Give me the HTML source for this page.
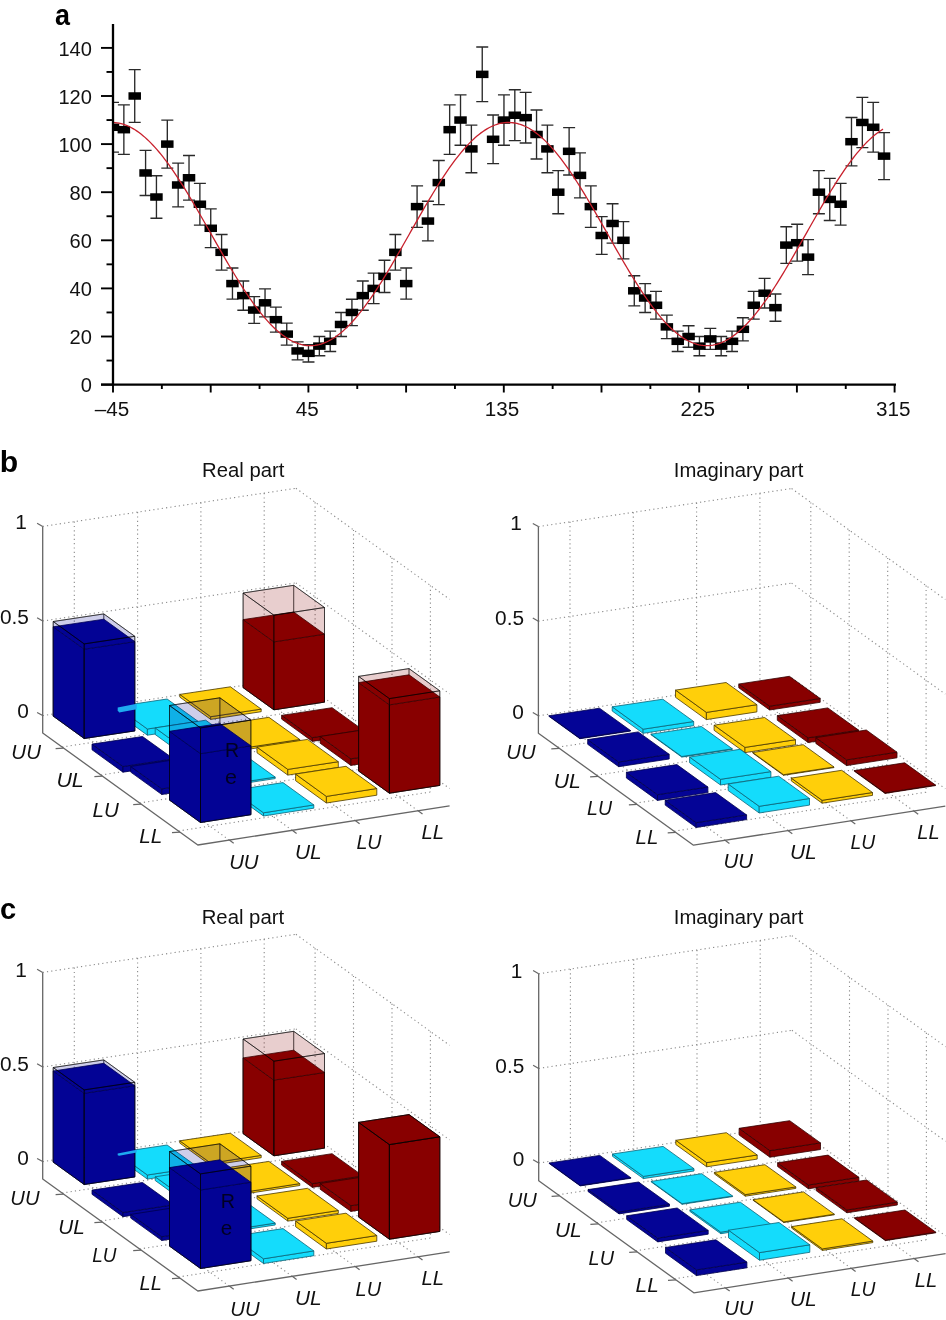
<!DOCTYPE html>
<html><head><meta charset="utf-8"><title>figure</title>
<style>html,body{margin:0;padding:0;background:#fff;}svg{display:block;will-change:transform;}</style>
</head><body>
<svg width="946" height="1320" viewBox="0 0 946 1320">
<g id="pa">
<text transform="translate(54.99 24.60) scale(0.9281 1)" font-family='"Liberation Sans", sans-serif' font-weight="bold" font-size="29" fill="#000">a</text>
<clipPath id="clipa"><rect x="112.5" y="0" width="900" height="400"/></clipPath>
<g clip-path="url(#clipa)">
<path d="M113.00 102.39V152.14M107.00 102.39H119.00M107.00 152.14H119.00" stroke="#2a2a2a" stroke-width="1.35" fill="none"/>
<path d="M123.86 104.91V154.43M117.86 104.91H129.86M117.86 154.43H129.86" stroke="#2a2a2a" stroke-width="1.35" fill="none"/>
<path d="M134.72 69.65V122.35M128.72 69.65H140.72M128.72 122.35H140.72" stroke="#2a2a2a" stroke-width="1.35" fill="none"/>
<path d="M145.58 150.40V195.52M139.58 150.40H151.58M139.58 195.52H151.58" stroke="#2a2a2a" stroke-width="1.35" fill="none"/>
<path d="M156.44 175.77V218.25M150.44 175.77H162.44M150.44 218.25H162.44" stroke="#2a2a2a" stroke-width="1.35" fill="none"/>
<path d="M167.30 120.05V168.15M161.30 120.05H173.30M161.30 168.15H173.30" stroke="#2a2a2a" stroke-width="1.35" fill="none"/>
<path d="M178.16 163.07V206.90M172.16 163.07H184.16M172.16 206.90H184.16" stroke="#2a2a2a" stroke-width="1.35" fill="none"/>
<path d="M189.02 155.47V200.07M183.02 155.47H195.02M183.02 200.07H195.02" stroke="#2a2a2a" stroke-width="1.35" fill="none"/>
<path d="M199.88 183.40V225.05M193.88 183.40H205.88M193.88 225.05H205.88" stroke="#2a2a2a" stroke-width="1.35" fill="none"/>
<path d="M210.74 208.89V247.66M204.74 208.89H216.74M204.74 247.66H216.74" stroke="#2a2a2a" stroke-width="1.35" fill="none"/>
<path d="M221.60 234.49V270.16M215.60 234.49H227.60M215.60 270.16H227.60" stroke="#2a2a2a" stroke-width="1.35" fill="none"/>
<path d="M232.46 268.00V299.18M226.46 268.00H238.46M226.46 299.18H238.46" stroke="#2a2a2a" stroke-width="1.35" fill="none"/>
<path d="M243.32 280.99V310.24M237.32 280.99H249.32M237.32 310.24H249.32" stroke="#2a2a2a" stroke-width="1.35" fill="none"/>
<path d="M254.18 296.65V323.44M248.18 296.65H260.18M248.18 323.44H260.18" stroke="#2a2a2a" stroke-width="1.35" fill="none"/>
<path d="M265.04 288.81V316.85M259.04 288.81H271.04M259.04 316.85H271.04" stroke="#2a2a2a" stroke-width="1.35" fill="none"/>
<path d="M275.90 307.17V332.16M269.90 307.17H281.90M269.90 332.16H281.90" stroke="#2a2a2a" stroke-width="1.35" fill="none"/>
<path d="M286.76 323.07V345.12M280.76 323.07H292.76M280.76 345.12H292.76" stroke="#2a2a2a" stroke-width="1.35" fill="none"/>
<path d="M297.62 341.93V359.93M291.62 341.93H303.62M291.62 359.93H303.62" stroke="#2a2a2a" stroke-width="1.35" fill="none"/>
<path d="M308.48 344.66V362.01M302.48 344.66H314.48M302.48 362.01H314.48" stroke="#2a2a2a" stroke-width="1.35" fill="none"/>
<path d="M319.34 336.50V355.74M313.34 336.50H325.34M313.34 355.74H325.34" stroke="#2a2a2a" stroke-width="1.35" fill="none"/>
<path d="M330.20 331.11V351.51M324.20 331.11H336.20M324.20 351.51H336.20" stroke="#2a2a2a" stroke-width="1.35" fill="none"/>
<path d="M341.06 312.45V336.50M335.06 312.45H347.06M335.06 336.50H347.06" stroke="#2a2a2a" stroke-width="1.35" fill="none"/>
<path d="M351.92 299.28V325.62M345.92 299.28H357.92M345.92 325.62H357.92" stroke="#2a2a2a" stroke-width="1.35" fill="none"/>
<path d="M362.78 280.99V310.24M356.78 280.99H368.78M356.78 310.24H368.78" stroke="#2a2a2a" stroke-width="1.35" fill="none"/>
<path d="M373.64 273.19V303.61M367.64 273.19H379.64M367.64 303.61H379.64" stroke="#2a2a2a" stroke-width="1.35" fill="none"/>
<path d="M384.50 260.24V292.51M378.50 260.24H390.50M378.50 292.51H390.50" stroke="#2a2a2a" stroke-width="1.35" fill="none"/>
<path d="M395.36 234.49V270.16M389.36 234.49H401.36M389.36 270.16H401.36" stroke="#2a2a2a" stroke-width="1.35" fill="none"/>
<path d="M406.22 268.00V299.18M400.22 268.00H412.22M400.22 299.18H412.22" stroke="#2a2a2a" stroke-width="1.35" fill="none"/>
<path d="M417.08 185.94V227.32M411.08 185.94H423.08M411.08 227.32H423.08" stroke="#2a2a2a" stroke-width="1.35" fill="none"/>
<path d="M427.94 201.23V240.89M421.94 201.23H433.94M421.94 240.89H433.94" stroke="#2a2a2a" stroke-width="1.35" fill="none"/>
<path d="M438.80 160.54V204.62M432.80 160.54H444.80M432.80 204.62H444.80" stroke="#2a2a2a" stroke-width="1.35" fill="none"/>
<path d="M449.66 104.91V154.43M443.66 104.91H455.66M443.66 154.43H455.66" stroke="#2a2a2a" stroke-width="1.35" fill="none"/>
<path d="M460.52 94.83V145.27M454.52 94.83H466.52M454.52 145.27H466.52" stroke="#2a2a2a" stroke-width="1.35" fill="none"/>
<path d="M471.38 125.10V172.72M465.38 125.10H477.38M465.38 172.72H477.38" stroke="#2a2a2a" stroke-width="1.35" fill="none"/>
<path d="M482.24 47.04V101.67M476.24 47.04H488.24M476.24 101.67H488.24" stroke="#2a2a2a" stroke-width="1.35" fill="none"/>
<path d="M493.10 115.00V163.58M487.10 115.00H499.10M487.10 163.58H499.10" stroke="#2a2a2a" stroke-width="1.35" fill="none"/>
<path d="M503.96 94.83V145.27M497.96 94.83H509.96M497.96 145.27H509.96" stroke="#2a2a2a" stroke-width="1.35" fill="none"/>
<path d="M514.82 89.79V140.69M508.82 89.79H520.82M508.82 140.69H520.82" stroke="#2a2a2a" stroke-width="1.35" fill="none"/>
<path d="M525.68 92.31V142.98M519.68 92.31H531.68M519.68 142.98H531.68" stroke="#2a2a2a" stroke-width="1.35" fill="none"/>
<path d="M536.54 109.95V159.01M530.54 109.95H542.54M530.54 159.01H542.54" stroke="#2a2a2a" stroke-width="1.35" fill="none"/>
<path d="M547.40 125.10V172.72M541.40 125.10H553.40M541.40 172.72H553.40" stroke="#2a2a2a" stroke-width="1.35" fill="none"/>
<path d="M558.26 170.69V213.71M552.26 170.69H564.26M552.26 213.71H564.26" stroke="#2a2a2a" stroke-width="1.35" fill="none"/>
<path d="M569.12 127.63V175.00M563.12 127.63H575.12M563.12 175.00H575.12" stroke="#2a2a2a" stroke-width="1.35" fill="none"/>
<path d="M579.98 152.93V197.80M573.98 152.93H585.98M573.98 197.80H585.98" stroke="#2a2a2a" stroke-width="1.35" fill="none"/>
<path d="M590.84 185.94V227.32M584.84 185.94H596.84M584.84 227.32H596.84" stroke="#2a2a2a" stroke-width="1.35" fill="none"/>
<path d="M601.70 216.55V254.43M595.70 216.55H607.70M595.70 254.43H607.70" stroke="#2a2a2a" stroke-width="1.35" fill="none"/>
<path d="M612.56 203.78V243.15M606.56 203.78H618.56M606.56 243.15H618.56" stroke="#2a2a2a" stroke-width="1.35" fill="none"/>
<path d="M623.42 221.67V258.93M617.42 221.67H629.42M617.42 258.93H629.42" stroke="#2a2a2a" stroke-width="1.35" fill="none"/>
<path d="M634.28 275.79V305.82M628.28 275.79H640.28M628.28 305.82H640.28" stroke="#2a2a2a" stroke-width="1.35" fill="none"/>
<path d="M645.14 283.59V312.45M639.14 283.59H651.14M639.14 312.45H651.14" stroke="#2a2a2a" stroke-width="1.35" fill="none"/>
<path d="M656.00 291.42V319.05M650.00 291.42H662.00M650.00 319.05H662.00" stroke="#2a2a2a" stroke-width="1.35" fill="none"/>
<path d="M666.86 315.10V338.66M660.86 315.10H672.86M660.86 338.66H672.86" stroke="#2a2a2a" stroke-width="1.35" fill="none"/>
<path d="M677.72 331.11V351.51M671.72 331.11H683.72M671.72 351.51H683.72" stroke="#2a2a2a" stroke-width="1.35" fill="none"/>
<path d="M688.58 325.74V347.26M682.58 325.74H694.58M682.58 347.26H694.58" stroke="#2a2a2a" stroke-width="1.35" fill="none"/>
<path d="M699.44 336.50V355.74M693.44 336.50H705.44M693.44 355.74H705.44" stroke="#2a2a2a" stroke-width="1.35" fill="none"/>
<path d="M710.30 328.42V349.39M704.30 328.42H716.30M704.30 349.39H716.30" stroke="#2a2a2a" stroke-width="1.35" fill="none"/>
<path d="M721.16 336.50V355.74M715.16 336.50H727.16M715.16 355.74H727.16" stroke="#2a2a2a" stroke-width="1.35" fill="none"/>
<path d="M732.02 331.11V351.51M726.02 331.11H738.02M726.02 351.51H738.02" stroke="#2a2a2a" stroke-width="1.35" fill="none"/>
<path d="M742.88 317.75V340.82M736.88 317.75H748.88M736.88 340.82H748.88" stroke="#2a2a2a" stroke-width="1.35" fill="none"/>
<path d="M753.74 291.42V319.05M747.74 291.42H759.74M747.74 319.05H759.74" stroke="#2a2a2a" stroke-width="1.35" fill="none"/>
<path d="M764.60 278.38V308.04M758.60 278.38H770.60M758.60 308.04H770.60" stroke="#2a2a2a" stroke-width="1.35" fill="none"/>
<path d="M775.46 294.04V321.24M769.46 294.04H781.46M769.46 321.24H781.46" stroke="#2a2a2a" stroke-width="1.35" fill="none"/>
<path d="M786.32 226.79V263.43M780.32 226.79H792.32M780.32 263.43H792.32" stroke="#2a2a2a" stroke-width="1.35" fill="none"/>
<path d="M797.18 224.23V261.18M791.18 224.23H803.18M791.18 261.18H803.18" stroke="#2a2a2a" stroke-width="1.35" fill="none"/>
<path d="M808.04 239.63V274.64M802.04 239.63H814.04M802.04 274.64H814.04" stroke="#2a2a2a" stroke-width="1.35" fill="none"/>
<path d="M818.90 170.69V213.71M812.90 170.69H824.90M812.90 213.71H824.90" stroke="#2a2a2a" stroke-width="1.35" fill="none"/>
<path d="M829.76 178.31V220.52M823.76 178.31H835.76M823.76 220.52H835.76" stroke="#2a2a2a" stroke-width="1.35" fill="none"/>
<path d="M840.62 183.40V225.05M834.62 183.40H846.62M834.62 225.05H846.62" stroke="#2a2a2a" stroke-width="1.35" fill="none"/>
<path d="M851.48 117.53V165.86M845.48 117.53H857.48M845.48 165.86H857.48" stroke="#2a2a2a" stroke-width="1.35" fill="none"/>
<path d="M862.34 97.35V147.56M856.34 97.35H868.34M856.34 147.56H868.34" stroke="#2a2a2a" stroke-width="1.35" fill="none"/>
<path d="M873.20 102.39V152.14M867.20 102.39H879.20M867.20 152.14H879.20" stroke="#2a2a2a" stroke-width="1.35" fill="none"/>
<path d="M884.06 132.68V179.57M878.06 132.68H890.06M878.06 179.57H890.06" stroke="#2a2a2a" stroke-width="1.35" fill="none"/>
<rect x="106.75" y="123.52" width="12.5" height="7.5" fill="#000"/>
<rect x="117.61" y="125.92" width="12.5" height="7.5" fill="#000"/>
<rect x="128.47" y="92.25" width="12.5" height="7.5" fill="#000"/>
<rect x="139.33" y="169.21" width="12.5" height="7.5" fill="#000"/>
<rect x="150.19" y="193.26" width="12.5" height="7.5" fill="#000"/>
<rect x="161.05" y="140.35" width="12.5" height="7.5" fill="#000"/>
<rect x="171.91" y="181.24" width="12.5" height="7.5" fill="#000"/>
<rect x="182.77" y="174.02" width="12.5" height="7.5" fill="#000"/>
<rect x="193.63" y="200.48" width="12.5" height="7.5" fill="#000"/>
<rect x="204.49" y="224.53" width="12.5" height="7.5" fill="#000"/>
<rect x="215.35" y="248.58" width="12.5" height="7.5" fill="#000"/>
<rect x="226.21" y="279.84" width="12.5" height="7.5" fill="#000"/>
<rect x="237.07" y="291.87" width="12.5" height="7.5" fill="#000"/>
<rect x="247.93" y="306.30" width="12.5" height="7.5" fill="#000"/>
<rect x="258.79" y="299.08" width="12.5" height="7.5" fill="#000"/>
<rect x="269.65" y="315.92" width="12.5" height="7.5" fill="#000"/>
<rect x="280.51" y="330.35" width="12.5" height="7.5" fill="#000"/>
<rect x="291.37" y="347.18" width="12.5" height="7.5" fill="#000"/>
<rect x="302.23" y="349.59" width="12.5" height="7.5" fill="#000"/>
<rect x="313.09" y="342.37" width="12.5" height="7.5" fill="#000"/>
<rect x="323.95" y="337.56" width="12.5" height="7.5" fill="#000"/>
<rect x="334.81" y="320.73" width="12.5" height="7.5" fill="#000"/>
<rect x="345.67" y="308.70" width="12.5" height="7.5" fill="#000"/>
<rect x="356.53" y="291.87" width="12.5" height="7.5" fill="#000"/>
<rect x="367.39" y="284.65" width="12.5" height="7.5" fill="#000"/>
<rect x="378.25" y="272.62" width="12.5" height="7.5" fill="#000"/>
<rect x="389.11" y="248.58" width="12.5" height="7.5" fill="#000"/>
<rect x="399.97" y="279.84" width="12.5" height="7.5" fill="#000"/>
<rect x="410.83" y="202.88" width="12.5" height="7.5" fill="#000"/>
<rect x="421.69" y="217.31" width="12.5" height="7.5" fill="#000"/>
<rect x="432.55" y="178.83" width="12.5" height="7.5" fill="#000"/>
<rect x="443.41" y="125.92" width="12.5" height="7.5" fill="#000"/>
<rect x="454.27" y="116.30" width="12.5" height="7.5" fill="#000"/>
<rect x="465.13" y="145.16" width="12.5" height="7.5" fill="#000"/>
<rect x="475.99" y="70.61" width="12.5" height="7.5" fill="#000"/>
<rect x="486.85" y="135.54" width="12.5" height="7.5" fill="#000"/>
<rect x="497.71" y="116.30" width="12.5" height="7.5" fill="#000"/>
<rect x="508.57" y="111.49" width="12.5" height="7.5" fill="#000"/>
<rect x="519.43" y="113.90" width="12.5" height="7.5" fill="#000"/>
<rect x="530.29" y="130.73" width="12.5" height="7.5" fill="#000"/>
<rect x="541.15" y="145.16" width="12.5" height="7.5" fill="#000"/>
<rect x="552.01" y="188.45" width="12.5" height="7.5" fill="#000"/>
<rect x="562.87" y="147.57" width="12.5" height="7.5" fill="#000"/>
<rect x="573.73" y="171.62" width="12.5" height="7.5" fill="#000"/>
<rect x="584.59" y="202.88" width="12.5" height="7.5" fill="#000"/>
<rect x="595.45" y="231.74" width="12.5" height="7.5" fill="#000"/>
<rect x="606.31" y="219.72" width="12.5" height="7.5" fill="#000"/>
<rect x="617.17" y="236.55" width="12.5" height="7.5" fill="#000"/>
<rect x="628.03" y="287.06" width="12.5" height="7.5" fill="#000"/>
<rect x="638.89" y="294.27" width="12.5" height="7.5" fill="#000"/>
<rect x="649.75" y="301.49" width="12.5" height="7.5" fill="#000"/>
<rect x="660.61" y="323.13" width="12.5" height="7.5" fill="#000"/>
<rect x="671.47" y="337.56" width="12.5" height="7.5" fill="#000"/>
<rect x="682.33" y="332.75" width="12.5" height="7.5" fill="#000"/>
<rect x="693.19" y="342.37" width="12.5" height="7.5" fill="#000"/>
<rect x="704.05" y="335.16" width="12.5" height="7.5" fill="#000"/>
<rect x="714.91" y="342.37" width="12.5" height="7.5" fill="#000"/>
<rect x="725.77" y="337.56" width="12.5" height="7.5" fill="#000"/>
<rect x="736.63" y="325.54" width="12.5" height="7.5" fill="#000"/>
<rect x="747.49" y="301.49" width="12.5" height="7.5" fill="#000"/>
<rect x="758.35" y="289.46" width="12.5" height="7.5" fill="#000"/>
<rect x="769.21" y="303.89" width="12.5" height="7.5" fill="#000"/>
<rect x="780.07" y="241.36" width="12.5" height="7.5" fill="#000"/>
<rect x="790.93" y="238.96" width="12.5" height="7.5" fill="#000"/>
<rect x="801.79" y="253.39" width="12.5" height="7.5" fill="#000"/>
<rect x="812.65" y="188.45" width="12.5" height="7.5" fill="#000"/>
<rect x="823.51" y="195.67" width="12.5" height="7.5" fill="#000"/>
<rect x="834.37" y="200.48" width="12.5" height="7.5" fill="#000"/>
<rect x="845.23" y="137.95" width="12.5" height="7.5" fill="#000"/>
<rect x="856.09" y="118.71" width="12.5" height="7.5" fill="#000"/>
<rect x="866.95" y="123.52" width="12.5" height="7.5" fill="#000"/>
<rect x="877.81" y="152.38" width="12.5" height="7.5" fill="#000"/>
<polyline points="113.0,122.47 115.0,122.58 117.0,122.81 119.0,123.14 121.0,123.59 123.0,124.15 125.0,124.81 127.0,125.59 129.0,126.48 131.0,127.47 133.0,128.58 135.0,129.79 137.0,131.10 139.0,132.51 141.0,134.03 143.0,135.65 145.0,137.37 147.0,139.18 149.0,141.09 151.0,143.10 153.0,145.19 155.0,147.37 157.0,149.65 159.0,152.00 161.0,154.44 163.0,156.96 165.0,159.55 167.0,162.22 169.0,164.97 171.0,167.78 173.0,170.66 175.0,173.60 177.0,176.60 179.0,179.66 181.0,182.78 183.0,185.94 185.0,189.16 187.0,192.42 189.0,195.72 191.0,199.06 193.0,202.43 195.0,205.84 197.0,209.28 199.0,212.74 201.0,216.22 203.0,219.72 205.0,223.23 207.0,226.76 209.0,230.29 211.0,233.83 213.0,237.36 215.0,240.90 217.0,244.42 219.0,247.94 221.0,251.44 223.0,254.92 225.0,258.39 227.0,261.82 229.0,265.24 231.0,268.61 233.0,271.96 235.0,275.27 237.0,278.53 239.0,281.75 241.0,284.93 243.0,288.05 245.0,291.11 247.0,294.12 249.0,297.07 251.0,299.96 253.0,302.78 255.0,305.53 257.0,308.21 259.0,310.82 261.0,313.34 263.0,315.79 265.0,318.16 267.0,320.44 269.0,322.63 271.0,324.74 273.0,326.76 275.0,328.68 277.0,330.50 279.0,332.23 281.0,333.86 283.0,335.40 285.0,336.82 287.0,338.15 289.0,339.37 291.0,340.49 293.0,341.50 295.0,342.40 297.0,343.19 299.0,343.87 301.0,344.44 303.0,344.90 305.0,345.25 307.0,345.49 309.0,345.62 311.0,345.63 313.0,345.53 315.0,345.32 317.0,345.00 319.0,344.57 321.0,344.02 323.0,343.37 325.0,342.60 327.0,341.73 329.0,340.75 331.0,339.66 333.0,338.47 335.0,337.17 337.0,335.76 339.0,334.26 341.0,332.65 343.0,330.95 345.0,329.14 347.0,327.24 349.0,325.25 351.0,323.17 353.0,321.00 355.0,318.74 357.0,316.39 359.0,313.96 361.0,311.46 363.0,308.87 365.0,306.21 367.0,303.48 369.0,300.67 371.0,297.80 373.0,294.87 375.0,291.87 377.0,288.82 379.0,285.71 381.0,282.55 383.0,279.34 385.0,276.09 387.0,272.79 389.0,269.45 391.0,266.08 393.0,262.68 395.0,259.25 397.0,255.79 399.0,252.31 401.0,248.81 403.0,245.30 405.0,241.78 407.0,238.25 409.0,234.71 411.0,231.17 413.0,227.64 415.0,224.11 417.0,220.60 419.0,217.09 421.0,213.61 423.0,210.14 425.0,206.70 427.0,203.28 429.0,199.90 431.0,196.55 433.0,193.24 435.0,189.97 437.0,186.74 439.0,183.56 441.0,180.43 443.0,177.36 445.0,174.34 447.0,171.39 449.0,168.49 451.0,165.66 453.0,162.90 455.0,160.21 457.0,157.60 459.0,155.06 461.0,152.60 463.0,150.23 465.0,147.93 467.0,145.73 469.0,143.61 471.0,141.59 473.0,139.65 475.0,137.81 477.0,136.07 479.0,134.43 481.0,132.88 483.0,131.44 485.0,130.10 487.0,128.87 489.0,127.74 491.0,126.72 493.0,125.80 495.0,125.00 497.0,124.30 499.0,123.72 501.0,123.24 503.0,122.88 505.0,122.63 507.0,122.49 509.0,122.46 511.0,122.54 513.0,122.74 515.0,123.05 517.0,123.47 519.0,124.00 521.0,124.64 523.0,125.39 525.0,126.25 527.0,127.22 529.0,128.29 531.0,129.47 533.0,130.76 535.0,132.15 537.0,133.64 539.0,135.24 541.0,136.93 543.0,138.72 545.0,140.61 547.0,142.59 549.0,144.66 551.0,146.82 553.0,149.07 555.0,151.40 557.0,153.82 559.0,156.32 561.0,158.90 563.0,161.55 565.0,164.27 567.0,167.07 569.0,169.93 571.0,172.86 573.0,175.84 575.0,178.89 577.0,181.99 579.0,185.15 581.0,188.35 583.0,191.60 585.0,194.89 587.0,198.22 589.0,201.59 591.0,204.99 593.0,208.42 595.0,211.87 597.0,215.35 599.0,218.84 601.0,222.35 603.0,225.88 605.0,229.41 607.0,232.94 609.0,236.48 611.0,240.01 613.0,243.54 615.0,247.06 617.0,250.56 619.0,254.05 621.0,257.52 623.0,260.97 625.0,264.39 627.0,267.77 629.0,271.13 631.0,274.44 633.0,277.72 635.0,280.95 637.0,284.14 639.0,287.27 641.0,290.35 643.0,293.38 645.0,296.34 647.0,299.25 649.0,302.08 651.0,304.85 653.0,307.55 655.0,310.17 657.0,312.72 659.0,315.19 661.0,317.57 663.0,319.88 665.0,322.09 667.0,324.22 669.0,326.26 671.0,328.21 673.0,330.06 675.0,331.81 677.0,333.47 679.0,335.02 681.0,336.48 683.0,337.83 685.0,339.08 687.0,340.22 689.0,341.25 691.0,342.18 693.0,343.00 695.0,343.71 697.0,344.31 699.0,344.80 701.0,345.18 703.0,345.44 705.0,345.60 707.0,345.64 709.0,345.57 711.0,345.39 713.0,345.09 715.0,344.69 717.0,344.17 719.0,343.54 721.0,342.81 723.0,341.96 725.0,341.00 727.0,339.94 729.0,338.77 731.0,337.50 733.0,336.12 735.0,334.64 737.0,333.06 739.0,331.38 741.0,329.60 743.0,327.73 745.0,325.76 747.0,323.70 749.0,321.55 751.0,319.31 753.0,316.99 755.0,314.58 757.0,312.09 759.0,309.52 761.0,306.88 763.0,304.17 765.0,301.38 767.0,298.53 769.0,295.61 771.0,292.63 773.0,289.59 775.0,286.49 777.0,283.35 779.0,280.15 781.0,276.90 783.0,273.62 785.0,270.29 787.0,266.93 789.0,263.53 791.0,260.11 793.0,256.66 795.0,253.18 797.0,249.69 799.0,246.18 801.0,242.66 803.0,239.13 805.0,235.59 807.0,232.06 809.0,228.52 811.0,224.99 813.0,221.47 815.0,217.97 817.0,214.48 819.0,211.00 821.0,207.56 823.0,204.13 825.0,200.74 827.0,197.38 829.0,194.06 831.0,190.78 833.0,187.54 835.0,184.35 837.0,181.21 839.0,178.12 841.0,175.09 843.0,172.12 845.0,169.21 847.0,166.36 849.0,163.59 851.0,160.88 853.0,158.25 855.0,155.69 857.0,153.21 859.0,150.81 861.0,148.50 863.0,146.27 865.0,144.13 867.0,142.08 869.0,140.13 871.0,138.26 873.0,136.50 875.0,134.83 877.0,133.26 879.0,131.79 881.0,130.43 883.0,129.17" fill="none" stroke="#c8202c" stroke-width="1.3"/>
</g>
<path d="M113.0 24V385.70000000000005" stroke="#000" stroke-width="2.3" fill="none"/>
<path d="M101.0 384.6H896.0" stroke="#000" stroke-width="2.1" fill="none"/>
<path d="M101.0 384.60H113.0" stroke="#000" stroke-width="1.9"/>
<text transform="translate(80.76 392.40) scale(1.0300 1)" font-family='"Liberation Sans", sans-serif' font-size="19.5" fill="#111">0</text>
<path d="M106.5 360.55H113.0" stroke="#000" stroke-width="1.9"/>
<path d="M101.0 336.50H113.0" stroke="#000" stroke-width="1.9"/>
<text transform="translate(69.61 344.30) scale(1.0300 1)" font-family='"Liberation Sans", sans-serif' font-size="19.5" fill="#111">20</text>
<path d="M106.5 312.45H113.0" stroke="#000" stroke-width="1.9"/>
<path d="M101.0 288.40H113.0" stroke="#000" stroke-width="1.9"/>
<text transform="translate(69.61 296.20) scale(1.0300 1)" font-family='"Liberation Sans", sans-serif' font-size="19.5" fill="#111">40</text>
<path d="M106.5 264.35H113.0" stroke="#000" stroke-width="1.9"/>
<path d="M101.0 240.30H113.0" stroke="#000" stroke-width="1.9"/>
<text transform="translate(69.61 248.10) scale(1.0300 1)" font-family='"Liberation Sans", sans-serif' font-size="19.5" fill="#111">60</text>
<path d="M106.5 216.25H113.0" stroke="#000" stroke-width="1.9"/>
<path d="M101.0 192.20H113.0" stroke="#000" stroke-width="1.9"/>
<text transform="translate(69.61 200.00) scale(1.0300 1)" font-family='"Liberation Sans", sans-serif' font-size="19.5" fill="#111">80</text>
<path d="M106.5 168.15H113.0" stroke="#000" stroke-width="1.9"/>
<path d="M101.0 144.10H113.0" stroke="#000" stroke-width="1.9"/>
<text transform="translate(58.46 151.90) scale(1.0300 1)" font-family='"Liberation Sans", sans-serif' font-size="19.5" fill="#111">100</text>
<path d="M106.5 120.05H113.0" stroke="#000" stroke-width="1.9"/>
<path d="M101.0 96.00H113.0" stroke="#000" stroke-width="1.9"/>
<text transform="translate(58.46 103.80) scale(1.0300 1)" font-family='"Liberation Sans", sans-serif' font-size="19.5" fill="#111">120</text>
<path d="M106.5 71.95H113.0" stroke="#000" stroke-width="1.9"/>
<path d="M101.0 47.90H113.0" stroke="#000" stroke-width="1.9"/>
<text transform="translate(58.46 55.70) scale(1.0300 1)" font-family='"Liberation Sans", sans-serif' font-size="19.5" fill="#111">140</text>
<path d="M113.00 384.6V392.5" stroke="#000" stroke-width="1.9"/>
<path d="M161.85 384.6V389.0" stroke="#000" stroke-width="1.9"/>
<path d="M210.70 384.6V392.5" stroke="#000" stroke-width="1.9"/>
<path d="M259.55 384.6V389.0" stroke="#000" stroke-width="1.9"/>
<path d="M308.40 384.6V392.5" stroke="#000" stroke-width="1.9"/>
<path d="M357.25 384.6V389.0" stroke="#000" stroke-width="1.9"/>
<path d="M406.10 384.6V392.5" stroke="#000" stroke-width="1.9"/>
<path d="M454.95 384.6V389.0" stroke="#000" stroke-width="1.9"/>
<path d="M503.80 384.6V392.5" stroke="#000" stroke-width="1.9"/>
<path d="M552.65 384.6V389.0" stroke="#000" stroke-width="1.9"/>
<path d="M601.50 384.6V392.5" stroke="#000" stroke-width="1.9"/>
<path d="M650.35 384.6V389.0" stroke="#000" stroke-width="1.9"/>
<path d="M699.20 384.6V392.5" stroke="#000" stroke-width="1.9"/>
<path d="M748.05 384.6V389.0" stroke="#000" stroke-width="1.9"/>
<path d="M796.90 384.6V392.5" stroke="#000" stroke-width="1.9"/>
<path d="M845.75 384.6V389.0" stroke="#000" stroke-width="1.9"/>
<path d="M894.60 384.6V392.5" stroke="#000" stroke-width="1.9"/>
<text transform="translate(94.81 416.20) scale(1.0600 1)" font-family='"Liberation Sans", sans-serif' font-size="19.5" fill="#111">–45</text>
<text transform="translate(295.73 416.20) scale(1.0600 1)" font-family='"Liberation Sans", sans-serif' font-size="19.5" fill="#111">45</text>
<text transform="translate(484.83 416.20) scale(1.0600 1)" font-family='"Liberation Sans", sans-serif' font-size="19.5" fill="#111">135</text>
<text transform="translate(680.49 416.20) scale(1.0600 1)" font-family='"Liberation Sans", sans-serif' font-size="19.5" fill="#111">225</text>
<text transform="translate(875.99 416.20) scale(1.0600 1)" font-family='"Liberation Sans", sans-serif' font-size="19.5" fill="#111">315</text>
</g>
<text transform="translate(-0.26 471.60) scale(1.0379 1)" font-family='"Liberation Sans", sans-serif' font-weight="bold" font-size="29" fill="#000">b</text>
<text transform="translate(-0.12 919.10) scale(1.0060 1)" font-family='"Liberation Sans", sans-serif' font-weight="bold" font-size="29" fill="#000">c</text>
<path d="M42.7 715.6L295.9 677.5" stroke="#8a8a8a" stroke-width="1.1" fill="none" stroke-dasharray="1.2 3.1"/>
<path d="M42.7 621.0L295.9 582.9" stroke="#8a8a8a" stroke-width="1.1" fill="none" stroke-dasharray="1.2 3.1"/>
<path d="M42.7 526.4L295.9 488.3" stroke="#8a8a8a" stroke-width="1.1" fill="none" stroke-dasharray="1.2 3.1"/>
<path d="M74.3 521.6L74.3 728.2" stroke="#8a8a8a" stroke-width="1.1" fill="none" stroke-dasharray="1.2 3.1"/>
<path d="M137.6 512.1L137.6 718.7" stroke="#8a8a8a" stroke-width="1.1" fill="none" stroke-dasharray="1.2 3.1"/>
<path d="M200.9 502.6L200.9 709.2" stroke="#8a8a8a" stroke-width="1.1" fill="none" stroke-dasharray="1.2 3.1"/>
<path d="M264.2 493.1L264.2 699.7" stroke="#8a8a8a" stroke-width="1.1" fill="none" stroke-dasharray="1.2 3.1"/>
<path d="M295.9 677.5L449.6 788.5" stroke="#8a8a8a" stroke-width="1.1" fill="none" stroke-dasharray="1.2 3.1"/>
<path d="M295.9 582.9L449.6 693.9" stroke="#8a8a8a" stroke-width="1.1" fill="none" stroke-dasharray="1.2 3.1"/>
<path d="M295.9 488.3L449.6 599.3" stroke="#8a8a8a" stroke-width="1.1" fill="none" stroke-dasharray="1.2 3.1"/>
<path d="M315.1 502.2L315.1 708.8" stroke="#8a8a8a" stroke-width="1.1" fill="none" stroke-dasharray="1.2 3.1"/>
<path d="M353.5 529.9L353.5 736.5" stroke="#8a8a8a" stroke-width="1.1" fill="none" stroke-dasharray="1.2 3.1"/>
<path d="M392.0 557.7L392.0 764.3" stroke="#8a8a8a" stroke-width="1.1" fill="none" stroke-dasharray="1.2 3.1"/>
<path d="M430.4 585.4L430.4 792.0" stroke="#8a8a8a" stroke-width="1.1" fill="none" stroke-dasharray="1.2 3.1"/>
<path d="M229.3 840.1L74.3 728.2" stroke="#8a8a8a" stroke-width="1.1" fill="none" stroke-dasharray="1.2 3.1"/>
<path d="M292.2 830.3L137.6 718.7" stroke="#8a8a8a" stroke-width="1.1" fill="none" stroke-dasharray="1.2 3.1"/>
<path d="M355.2 820.6L200.9 709.2" stroke="#8a8a8a" stroke-width="1.1" fill="none" stroke-dasharray="1.2 3.1"/>
<path d="M418.1 810.8L264.2 699.7" stroke="#8a8a8a" stroke-width="1.1" fill="none" stroke-dasharray="1.2 3.1"/>
<path d="M62.1 747.0L315.1 708.8" stroke="#8a8a8a" stroke-width="1.1" fill="none" stroke-dasharray="1.2 3.1"/>
<path d="M100.9 775.0L353.5 736.5" stroke="#8a8a8a" stroke-width="1.1" fill="none" stroke-dasharray="1.2 3.1"/>
<path d="M139.6 803.0L392.0 764.3" stroke="#8a8a8a" stroke-width="1.1" fill="none" stroke-dasharray="1.2 3.1"/>
<path d="M178.4 831.0L430.4 792.0" stroke="#8a8a8a" stroke-width="1.1" fill="none" stroke-dasharray="1.2 3.1"/>
<polygon points="243.1,687.6 293.7,679.9 324.5,702.1 273.9,709.8" fill="#880000" fill-opacity="0.1" stroke="#000" stroke-width="0.8" stroke-linejoin="round" stroke-opacity="0.55"/>
<polygon points="293.7,679.9 324.5,702.1 324.5,607.5 293.7,585.3" fill="#880000" fill-opacity="0.1" stroke="#000" stroke-width="0.8" stroke-linejoin="round" stroke-opacity="0.55"/>
<polygon points="243.1,687.6 293.7,679.9 293.7,585.3 243.1,593.0" fill="#880000" fill-opacity="0.1" stroke="#000" stroke-width="0.8" stroke-linejoin="round" stroke-opacity="0.55"/>
<polygon points="243.1,687.6 273.9,709.8 273.9,641.9 243.1,619.6" fill="#880000" stroke="#340000" stroke-width="0.8" stroke-linejoin="round"/>
<polygon points="273.9,709.8 324.5,702.1 324.5,634.2 273.9,641.9" fill="#880000" stroke="#340000" stroke-width="0.8" stroke-linejoin="round"/>
<polygon points="243.1,619.6 293.7,612.0 324.5,634.2 273.9,641.9" fill="#880000" stroke="#340000" stroke-width="0.8" stroke-linejoin="round"/>
<polygon points="243.1,687.6 273.9,709.8 273.9,615.2 243.1,593.0" fill="#880000" fill-opacity="0.1" stroke="#000" stroke-width="0.8" stroke-linejoin="round" stroke-opacity="0.7"/>
<polygon points="273.9,709.8 324.5,702.1 324.5,607.5 273.9,615.2" fill="#880000" fill-opacity="0.1" stroke="#000" stroke-width="0.8" stroke-linejoin="round" stroke-opacity="0.7"/>
<polygon points="243.1,593.0 293.7,585.3 324.5,607.5 273.9,615.2" fill="#880000" fill-opacity="0.1" stroke="#000" stroke-width="0.8" stroke-linejoin="round" stroke-opacity="0.7"/>
<polygon points="179.8,697.1 210.7,719.4 210.7,716.7 179.8,694.4" fill="#ffcf0a" stroke="#4a3800" stroke-width="0.8" stroke-linejoin="round"/>
<polygon points="210.7,719.4 261.2,711.7 261.2,709.1 210.7,716.7" fill="#ffcf0a" stroke="#4a3800" stroke-width="0.8" stroke-linejoin="round"/>
<polygon points="179.8,694.4 230.4,686.8 261.2,709.1 210.7,716.7" fill="#ffcf0a" stroke="#4a3800" stroke-width="0.8" stroke-linejoin="round"/>
<polygon points="281.6,719.1 312.4,741.4 312.4,737.6 281.6,715.4" fill="#880000" stroke="#340000" stroke-width="0.8" stroke-linejoin="round"/>
<polygon points="312.4,741.4 362.9,733.7 362.9,729.9 312.4,737.6" fill="#880000" stroke="#340000" stroke-width="0.8" stroke-linejoin="round"/>
<polygon points="281.6,715.4 332.1,707.7 362.9,729.9 312.4,737.6" fill="#880000" stroke="#340000" stroke-width="0.8" stroke-linejoin="round"/>
<polygon points="116.5,712.9 147.4,735.2 147.4,729.0 116.5,706.6" fill="#14dcfc" stroke="#0a6478" stroke-width="0.8" stroke-linejoin="round"/>
<polygon points="147.4,735.2 198.0,727.5 198.0,721.3 147.4,729.0" fill="#14dcfc" stroke="#0a6478" stroke-width="0.8" stroke-linejoin="round"/>
<polygon points="116.5,706.6 167.1,699.0 198.0,721.3 147.4,729.0" fill="#14dcfc" stroke="#0a6478" stroke-width="0.8" stroke-linejoin="round"/>
<polygon points="218.4,726.8 249.3,749.1 249.3,747.2 218.4,725.0" fill="#ffcf0a" stroke="#4a3800" stroke-width="0.8" stroke-linejoin="round"/>
<polygon points="249.3,749.1 299.8,741.4 299.8,739.5 249.3,747.2" fill="#ffcf0a" stroke="#4a3800" stroke-width="0.8" stroke-linejoin="round"/>
<polygon points="218.4,725.0 268.9,717.3 299.8,739.5 249.3,747.2" fill="#ffcf0a" stroke="#4a3800" stroke-width="0.8" stroke-linejoin="round"/>
<polygon points="320.1,743.2 350.9,765.4 350.9,758.8 320.1,736.5" fill="#880000" stroke="#340000" stroke-width="0.8" stroke-linejoin="round"/>
<polygon points="350.9,765.4 401.3,757.6 401.3,751.0 350.9,758.8" fill="#880000" stroke="#340000" stroke-width="0.8" stroke-linejoin="round"/>
<polygon points="320.1,736.5 370.6,728.8 401.3,751.0 350.9,758.8" fill="#880000" stroke="#340000" stroke-width="0.8" stroke-linejoin="round"/>
<polygon points="53.2,716.1 103.8,708.5 134.8,730.9 84.2,738.5" fill="#040496" fill-opacity="0.1" stroke="#000" stroke-width="0.8" stroke-linejoin="round" stroke-opacity="0.55"/>
<polygon points="103.8,708.5 134.8,730.9 134.8,636.3 103.8,613.9" fill="#040496" fill-opacity="0.1" stroke="#000" stroke-width="0.8" stroke-linejoin="round" stroke-opacity="0.55"/>
<polygon points="53.2,716.1 103.8,708.5 103.8,613.9 53.2,621.5" fill="#040496" fill-opacity="0.1" stroke="#000" stroke-width="0.8" stroke-linejoin="round" stroke-opacity="0.55"/>
<polygon points="53.2,716.1 84.2,738.5 84.2,649.2 53.2,626.8" fill="#040496" stroke="#00004c" stroke-width="0.8" stroke-linejoin="round"/>
<polygon points="84.2,738.5 134.8,730.9 134.8,641.6 84.2,649.2" fill="#040496" stroke="#00004c" stroke-width="0.8" stroke-linejoin="round"/>
<polygon points="53.2,626.8 103.8,619.2 134.8,641.6 84.2,649.2" fill="#040496" stroke="#00004c" stroke-width="0.8" stroke-linejoin="round"/>
<polygon points="53.2,716.1 84.2,738.5 84.2,643.9 53.2,621.5" fill="#040496" fill-opacity="0.1" stroke="#000" stroke-width="0.8" stroke-linejoin="round" stroke-opacity="0.7"/>
<polygon points="84.2,738.5 134.8,730.9 134.8,636.3 84.2,643.9" fill="#040496" fill-opacity="0.1" stroke="#000" stroke-width="0.8" stroke-linejoin="round" stroke-opacity="0.7"/>
<polygon points="53.2,621.5 103.8,613.9 134.8,636.3 84.2,643.9" fill="#040496" fill-opacity="0.1" stroke="#000" stroke-width="0.8" stroke-linejoin="round" stroke-opacity="0.7"/>
<polygon points="117.7,707.6 136.7,703.8 136.7,709.3 119.2,712.5 117.7,710.6" fill="#1eaaf0"/>
<polygon points="155.2,734.5 186.1,756.9 186.1,750.3 155.2,727.9" fill="#14dcfc" stroke="#0a6478" stroke-width="0.8" stroke-linejoin="round"/>
<polygon points="186.1,756.9 236.6,749.2 236.6,742.6 186.1,750.3" fill="#14dcfc" stroke="#0a6478" stroke-width="0.8" stroke-linejoin="round"/>
<polygon points="155.2,727.9 205.7,720.2 236.6,742.6 186.1,750.3" fill="#14dcfc" stroke="#0a6478" stroke-width="0.8" stroke-linejoin="round"/>
<polygon points="257.0,752.8 287.8,775.1 287.8,769.4 257.0,747.1" fill="#ffcf0a" stroke="#4a3800" stroke-width="0.8" stroke-linejoin="round"/>
<polygon points="287.8,775.1 338.3,767.4 338.3,761.7 287.8,769.4" fill="#ffcf0a" stroke="#4a3800" stroke-width="0.8" stroke-linejoin="round"/>
<polygon points="257.0,747.1 307.5,739.4 338.3,761.7 287.8,769.4" fill="#ffcf0a" stroke="#4a3800" stroke-width="0.8" stroke-linejoin="round"/>
<polygon points="358.6,771.0 409.0,763.2 439.8,785.4 389.4,793.2" fill="#880000" fill-opacity="0.1" stroke="#000" stroke-width="0.8" stroke-linejoin="round" stroke-opacity="0.55"/>
<polygon points="409.0,763.2 439.8,785.4 439.8,690.8 409.0,668.6" fill="#880000" fill-opacity="0.1" stroke="#000" stroke-width="0.8" stroke-linejoin="round" stroke-opacity="0.55"/>
<polygon points="358.6,771.0 409.0,763.2 409.0,668.6 358.6,676.4" fill="#880000" fill-opacity="0.1" stroke="#000" stroke-width="0.8" stroke-linejoin="round" stroke-opacity="0.55"/>
<polygon points="358.6,771.0 389.4,793.2 389.4,704.9 358.6,682.6" fill="#880000" stroke="#340000" stroke-width="0.8" stroke-linejoin="round"/>
<polygon points="389.4,793.2 439.8,785.4 439.8,697.0 389.4,704.9" fill="#880000" stroke="#340000" stroke-width="0.8" stroke-linejoin="round"/>
<polygon points="358.6,682.6 409.0,674.8 439.8,697.0 389.4,704.9" fill="#880000" stroke="#340000" stroke-width="0.8" stroke-linejoin="round"/>
<polygon points="358.6,771.0 389.4,793.2 389.4,698.6 358.6,676.4" fill="#880000" fill-opacity="0.1" stroke="#000" stroke-width="0.8" stroke-linejoin="round" stroke-opacity="0.7"/>
<polygon points="389.4,793.2 439.8,785.4 439.8,690.8 389.4,698.6" fill="#880000" fill-opacity="0.1" stroke="#000" stroke-width="0.8" stroke-linejoin="round" stroke-opacity="0.7"/>
<polygon points="358.6,676.4 409.0,668.6 439.8,690.8 389.4,698.6" fill="#880000" fill-opacity="0.1" stroke="#000" stroke-width="0.8" stroke-linejoin="round" stroke-opacity="0.7"/>
<polygon points="92.0,749.8 123.0,772.2 123.0,766.5 92.0,744.1" fill="#040496" stroke="#00004c" stroke-width="0.8" stroke-linejoin="round"/>
<polygon points="123.0,772.2 173.5,764.5 173.5,758.8 123.0,766.5" fill="#040496" stroke="#00004c" stroke-width="0.8" stroke-linejoin="round"/>
<polygon points="92.0,744.1 142.5,736.5 173.5,758.8 123.0,766.5" fill="#040496" stroke="#00004c" stroke-width="0.8" stroke-linejoin="round"/>
<polygon points="193.9,764.0 224.8,786.3 224.8,784.8 193.9,762.5" fill="#14dcfc" stroke="#0a6478" stroke-width="0.8" stroke-linejoin="round"/>
<polygon points="224.8,786.3 275.2,778.6 275.2,777.1 224.8,784.8" fill="#14dcfc" stroke="#0a6478" stroke-width="0.8" stroke-linejoin="round"/>
<polygon points="193.9,762.5 244.3,754.8 275.2,777.1 224.8,784.8" fill="#14dcfc" stroke="#0a6478" stroke-width="0.8" stroke-linejoin="round"/>
<polygon points="295.6,780.7 326.4,803.0 326.4,796.4 295.6,774.1" fill="#ffcf0a" stroke="#4a3800" stroke-width="0.8" stroke-linejoin="round"/>
<polygon points="326.4,803.0 376.8,795.2 376.8,788.5 326.4,796.4" fill="#ffcf0a" stroke="#4a3800" stroke-width="0.8" stroke-linejoin="round"/>
<polygon points="295.6,774.1 346.0,766.3 376.8,788.5 326.4,796.4" fill="#ffcf0a" stroke="#4a3800" stroke-width="0.8" stroke-linejoin="round"/>
<polygon points="130.7,772.1 161.8,794.5 161.8,788.9 130.7,766.5" fill="#040496" stroke="#00004c" stroke-width="0.8" stroke-linejoin="round"/>
<polygon points="161.8,794.5 212.2,786.8 212.2,781.1 161.8,788.9" fill="#040496" stroke="#00004c" stroke-width="0.8" stroke-linejoin="round"/>
<polygon points="130.7,766.5 181.2,758.7 212.2,781.1 161.8,788.9" fill="#040496" stroke="#00004c" stroke-width="0.8" stroke-linejoin="round"/>
<polygon points="232.5,793.6 263.5,816.0 263.5,812.8 232.5,790.4" fill="#14dcfc" stroke="#0a6478" stroke-width="0.8" stroke-linejoin="round"/>
<polygon points="263.5,816.0 313.8,808.2 313.8,804.9 263.5,812.8" fill="#14dcfc" stroke="#0a6478" stroke-width="0.8" stroke-linejoin="round"/>
<polygon points="232.5,790.4 283.0,782.6 313.8,804.9 263.5,812.8" fill="#14dcfc" stroke="#0a6478" stroke-width="0.8" stroke-linejoin="round"/>
<polygon points="169.5,800.1 219.9,792.4 250.9,814.7 200.5,822.5" fill="#040496" fill-opacity="0.1" stroke="#000" stroke-width="0.8" stroke-linejoin="round" stroke-opacity="0.55"/>
<polygon points="219.9,792.4 250.9,814.7 250.9,720.1 219.9,697.8" fill="#040496" fill-opacity="0.1" stroke="#000" stroke-width="0.8" stroke-linejoin="round" stroke-opacity="0.55"/>
<polygon points="169.5,800.1 219.9,792.4 219.9,697.8 169.5,705.5" fill="#040496" fill-opacity="0.1" stroke="#000" stroke-width="0.8" stroke-linejoin="round" stroke-opacity="0.55"/>
<polygon points="169.5,800.1 200.5,822.5 200.5,753.7 169.5,731.3" fill="#040496" stroke="#00004c" stroke-width="0.8" stroke-linejoin="round"/>
<polygon points="200.5,822.5 250.9,814.7 250.9,745.8 200.5,753.7" fill="#040496" stroke="#00004c" stroke-width="0.8" stroke-linejoin="round"/>
<polygon points="169.5,731.3 219.9,723.5 250.9,745.8 200.5,753.7" fill="#040496" stroke="#00004c" stroke-width="0.8" stroke-linejoin="round"/>
<polygon points="169.5,800.1 200.5,822.5 200.5,727.9 169.5,705.5" fill="#040496" fill-opacity="0.1" stroke="#000" stroke-width="0.8" stroke-linejoin="round" stroke-opacity="0.7"/>
<polygon points="200.5,822.5 250.9,814.7 250.9,720.1 200.5,727.9" fill="#040496" fill-opacity="0.1" stroke="#000" stroke-width="0.8" stroke-linejoin="round" stroke-opacity="0.7"/>
<polygon points="169.5,705.5 219.9,697.8 250.9,720.1 200.5,727.9" fill="#040496" fill-opacity="0.1" stroke="#000" stroke-width="0.8" stroke-linejoin="round" stroke-opacity="0.7"/>
<text transform="translate(224.94 756.50) scale(0.9998 1)" font-family='"Liberation Sans", sans-serif' font-size="19.5" fill="#000024">R</text>
<text transform="translate(225.04 784.00) scale(1.1020 1)" font-family='"Liberation Sans", sans-serif' font-size="19.5" fill="#000024">e</text>
<path d="M42.7 526.4L42.7 733.0L197.8 845.0L449.6 805.9" stroke="#666" stroke-width="1.3" fill="none" stroke-linejoin="round"/>
<path d="M42.7 715.6L37.1 712.4" stroke="#666" stroke-width="1.2" fill="none"/>
<path d="M42.7 621.0L37.1 617.8" stroke="#666" stroke-width="1.2" fill="none"/>
<path d="M42.7 526.4L37.1 523.2" stroke="#666" stroke-width="1.2" fill="none"/>
<path d="M63.6 748.1L55.6 748.6" stroke="#666" stroke-width="1.2" fill="none"/>
<path d="M102.4 776.1L94.4 776.6" stroke="#666" stroke-width="1.2" fill="none"/>
<path d="M141.2 804.1L133.2 804.6" stroke="#666" stroke-width="1.2" fill="none"/>
<path d="M180.0 832.1L172.0 832.6" stroke="#666" stroke-width="1.2" fill="none"/>
<path d="M229.3 840.1L233.7 843.3" stroke="#666" stroke-width="1.2" fill="none"/>
<path d="M292.2 830.3L296.6 833.5" stroke="#666" stroke-width="1.2" fill="none"/>
<path d="M355.2 820.6L359.6 823.8" stroke="#666" stroke-width="1.2" fill="none"/>
<path d="M418.1 810.8L422.5 814.0" stroke="#666" stroke-width="1.2" fill="none"/>
<text transform="translate(202.08 477.30) scale(1.0411 1)" font-family='"Liberation Sans", sans-serif' font-size="19.5" fill="#111">Real part</text>
<text transform="translate(17.25 717.80) scale(1.0700 1)" font-family='"Liberation Sans", sans-serif' font-size="19.5" fill="#111">0</text>
<text transform="translate(-0.07 624.00) scale(1.0700 1)" font-family='"Liberation Sans", sans-serif' font-size="19.5" fill="#111">0.5</text>
<text transform="translate(15.26 529.40) scale(1.0700 1)" font-family='"Liberation Sans", sans-serif' font-size="19.5" fill="#111">1</text>
<text transform="translate(11.37 758.90) scale(1.0481 1)" font-family='"Liberation Sans", sans-serif' font-style="italic" font-size="19.5" fill="#111">UU</text>
<text transform="translate(56.39 787.00) scale(1.0983 1)" font-family='"Liberation Sans", sans-serif' font-style="italic" font-size="19.5" fill="#111">UL</text>
<text transform="translate(92.58 817.10) scale(1.0544 1)" font-family='"Liberation Sans", sans-serif' font-style="italic" font-size="19.5" fill="#111">LU</text>
<text transform="translate(139.28 843.30) scale(1.0612 1)" font-family='"Liberation Sans", sans-serif' font-style="italic" font-size="19.5" fill="#111">LL</text>
<text transform="translate(229.17 868.80) scale(1.0444 1)" font-family='"Liberation Sans", sans-serif' font-style="italic" font-size="19.5" fill="#111">UU</text>
<text transform="translate(295.03 859.30) scale(1.0710 1)" font-family='"Liberation Sans", sans-serif' font-style="italic" font-size="19.5" fill="#111">UL</text>
<text transform="translate(356.41 848.50) scale(1.0092 1)" font-family='"Liberation Sans", sans-serif' font-style="italic" font-size="19.5" fill="#111">LU</text>
<text transform="translate(421.59 838.70) scale(1.0409 1)" font-family='"Liberation Sans", sans-serif' font-style="italic" font-size="19.5" fill="#111">LL</text>
<path d="M538.4 715.8L791.6 677.7" stroke="#8a8a8a" stroke-width="1.1" fill="none" stroke-dasharray="1.2 3.1"/>
<path d="M538.4 621.2L791.6 583.1" stroke="#8a8a8a" stroke-width="1.1" fill="none" stroke-dasharray="1.2 3.1"/>
<path d="M538.4 526.6L791.6 488.5" stroke="#8a8a8a" stroke-width="1.1" fill="none" stroke-dasharray="1.2 3.1"/>
<path d="M570.0 521.8L570.0 728.4" stroke="#8a8a8a" stroke-width="1.1" fill="none" stroke-dasharray="1.2 3.1"/>
<path d="M633.3 512.3L633.3 718.9" stroke="#8a8a8a" stroke-width="1.1" fill="none" stroke-dasharray="1.2 3.1"/>
<path d="M696.6 502.8L696.6 709.4" stroke="#8a8a8a" stroke-width="1.1" fill="none" stroke-dasharray="1.2 3.1"/>
<path d="M759.9 493.3L759.9 699.9" stroke="#8a8a8a" stroke-width="1.1" fill="none" stroke-dasharray="1.2 3.1"/>
<path d="M791.6 677.7L945.3 788.7" stroke="#8a8a8a" stroke-width="1.1" fill="none" stroke-dasharray="1.2 3.1"/>
<path d="M791.6 583.1L945.3 694.1" stroke="#8a8a8a" stroke-width="1.1" fill="none" stroke-dasharray="1.2 3.1"/>
<path d="M791.6 488.5L945.3 599.5" stroke="#8a8a8a" stroke-width="1.1" fill="none" stroke-dasharray="1.2 3.1"/>
<path d="M810.8 502.4L810.8 709.0" stroke="#8a8a8a" stroke-width="1.1" fill="none" stroke-dasharray="1.2 3.1"/>
<path d="M849.2 530.1L849.2 736.7" stroke="#8a8a8a" stroke-width="1.1" fill="none" stroke-dasharray="1.2 3.1"/>
<path d="M887.7 557.9L887.7 764.5" stroke="#8a8a8a" stroke-width="1.1" fill="none" stroke-dasharray="1.2 3.1"/>
<path d="M926.1 585.6L926.1 792.2" stroke="#8a8a8a" stroke-width="1.1" fill="none" stroke-dasharray="1.2 3.1"/>
<path d="M725.0 840.3L570.0 728.4" stroke="#8a8a8a" stroke-width="1.1" fill="none" stroke-dasharray="1.2 3.1"/>
<path d="M787.9 830.5L633.3 718.9" stroke="#8a8a8a" stroke-width="1.1" fill="none" stroke-dasharray="1.2 3.1"/>
<path d="M850.9 820.8L696.6 709.4" stroke="#8a8a8a" stroke-width="1.1" fill="none" stroke-dasharray="1.2 3.1"/>
<path d="M913.8 811.0L759.9 699.9" stroke="#8a8a8a" stroke-width="1.1" fill="none" stroke-dasharray="1.2 3.1"/>
<path d="M557.8 747.2L810.8 709.0" stroke="#8a8a8a" stroke-width="1.1" fill="none" stroke-dasharray="1.2 3.1"/>
<path d="M596.6 775.2L849.2 736.7" stroke="#8a8a8a" stroke-width="1.1" fill="none" stroke-dasharray="1.2 3.1"/>
<path d="M635.3 803.2L887.7 764.5" stroke="#8a8a8a" stroke-width="1.1" fill="none" stroke-dasharray="1.2 3.1"/>
<path d="M674.1 831.2L926.1 792.2" stroke="#8a8a8a" stroke-width="1.1" fill="none" stroke-dasharray="1.2 3.1"/>
<polygon points="738.8,687.8 769.6,710.0 769.6,706.2 738.8,684.0" fill="#880000" stroke="#340000" stroke-width="0.8" stroke-linejoin="round"/>
<polygon points="769.6,710.0 820.2,702.3 820.2,698.5 769.6,706.2" fill="#880000" stroke="#340000" stroke-width="0.8" stroke-linejoin="round"/>
<polygon points="738.8,684.0 789.4,676.3 820.2,698.5 769.6,706.2" fill="#880000" stroke="#340000" stroke-width="0.8" stroke-linejoin="round"/>
<polygon points="675.5,697.3 706.4,719.6 706.4,712.4 675.5,690.1" fill="#ffcf0a" stroke="#4a3800" stroke-width="0.8" stroke-linejoin="round"/>
<polygon points="706.4,719.6 756.9,711.9 756.9,704.7 706.4,712.4" fill="#ffcf0a" stroke="#4a3800" stroke-width="0.8" stroke-linejoin="round"/>
<polygon points="675.5,690.1 726.1,682.5 756.9,704.7 706.4,712.4" fill="#ffcf0a" stroke="#4a3800" stroke-width="0.8" stroke-linejoin="round"/>
<polygon points="777.3,720.3 808.1,742.5 808.1,737.8 777.3,715.6" fill="#880000" stroke="#340000" stroke-width="0.8" stroke-linejoin="round"/>
<polygon points="808.1,742.5 858.6,734.8 858.6,730.1 808.1,737.8" fill="#880000" stroke="#340000" stroke-width="0.8" stroke-linejoin="round"/>
<polygon points="777.3,715.6 827.8,707.9 858.6,730.1 808.1,737.8" fill="#880000" stroke="#340000" stroke-width="0.8" stroke-linejoin="round"/>
<polygon points="612.2,711.0 643.1,733.3 643.1,729.2 612.2,706.8" fill="#14dcfc" stroke="#0a6478" stroke-width="0.8" stroke-linejoin="round"/>
<polygon points="643.1,733.3 693.7,725.7 693.7,721.5 643.1,729.2" fill="#14dcfc" stroke="#0a6478" stroke-width="0.8" stroke-linejoin="round"/>
<polygon points="612.2,706.8 662.8,699.2 693.7,721.5 643.1,729.2" fill="#14dcfc" stroke="#0a6478" stroke-width="0.8" stroke-linejoin="round"/>
<polygon points="714.1,730.3 745.0,752.6 745.0,747.4 714.1,725.2" fill="#ffcf0a" stroke="#4a3800" stroke-width="0.8" stroke-linejoin="round"/>
<polygon points="745.0,752.6 795.5,744.8 795.5,739.7 745.0,747.4" fill="#ffcf0a" stroke="#4a3800" stroke-width="0.8" stroke-linejoin="round"/>
<polygon points="714.1,725.2 764.6,717.5 795.5,739.7 745.0,747.4" fill="#ffcf0a" stroke="#4a3800" stroke-width="0.8" stroke-linejoin="round"/>
<polygon points="815.8,743.4 846.6,765.6 846.6,759.9 815.8,737.7" fill="#880000" stroke="#340000" stroke-width="0.8" stroke-linejoin="round"/>
<polygon points="846.6,765.6 897.0,757.8 897.0,752.2 846.6,759.9" fill="#880000" stroke="#340000" stroke-width="0.8" stroke-linejoin="round"/>
<polygon points="815.8,737.7 866.3,730.0 897.0,752.2 846.6,759.9" fill="#880000" stroke="#340000" stroke-width="0.8" stroke-linejoin="round"/>
<polygon points="548.9,716.3 579.9,738.7 579.9,738.2 548.9,715.8" fill="#040496" stroke="#00004c" stroke-width="0.8" stroke-linejoin="round"/>
<polygon points="579.9,738.7 630.5,731.1 630.5,730.5 579.9,738.2" fill="#040496" stroke="#00004c" stroke-width="0.8" stroke-linejoin="round"/>
<polygon points="548.9,715.8 599.5,708.2 630.5,730.5 579.9,738.2" fill="#040496" stroke="#00004c" stroke-width="0.8" stroke-linejoin="round"/>
<polygon points="650.9,734.7 681.8,757.1 681.8,756.5 650.9,734.2" fill="#14dcfc" stroke="#0a6478" stroke-width="0.8" stroke-linejoin="round"/>
<polygon points="681.8,757.1 732.3,749.4 732.3,748.8 681.8,756.5" fill="#14dcfc" stroke="#0a6478" stroke-width="0.8" stroke-linejoin="round"/>
<polygon points="650.9,734.2 701.4,726.5 732.3,748.8 681.8,756.5" fill="#14dcfc" stroke="#0a6478" stroke-width="0.8" stroke-linejoin="round"/>
<polygon points="752.7,753.0 783.5,775.3 783.5,774.7 752.7,752.5" fill="#ffcf0a" stroke="#4a3800" stroke-width="0.8" stroke-linejoin="round"/>
<polygon points="783.5,775.3 834.0,767.6 834.0,767.0 783.5,774.7" fill="#ffcf0a" stroke="#4a3800" stroke-width="0.8" stroke-linejoin="round"/>
<polygon points="752.7,752.5 803.2,744.7 834.0,767.0 783.5,774.7" fill="#ffcf0a" stroke="#4a3800" stroke-width="0.8" stroke-linejoin="round"/>
<polygon points="854.3,771.2 885.1,793.4 885.1,792.8 854.3,770.6" fill="#880000" stroke="#340000" stroke-width="0.8" stroke-linejoin="round"/>
<polygon points="885.1,793.4 935.5,785.6 935.5,785.0 885.1,792.8" fill="#880000" stroke="#340000" stroke-width="0.8" stroke-linejoin="round"/>
<polygon points="854.3,770.6 904.7,762.8 935.5,785.0 885.1,792.8" fill="#880000" stroke="#340000" stroke-width="0.8" stroke-linejoin="round"/>
<polygon points="587.7,744.3 618.7,766.7 618.7,762.0 587.7,739.6" fill="#040496" stroke="#00004c" stroke-width="0.8" stroke-linejoin="round"/>
<polygon points="618.7,766.7 669.2,759.0 669.2,754.3 618.7,762.0" fill="#040496" stroke="#00004c" stroke-width="0.8" stroke-linejoin="round"/>
<polygon points="587.7,739.6 638.2,731.9 669.2,754.3 618.7,762.0" fill="#040496" stroke="#00004c" stroke-width="0.8" stroke-linejoin="round"/>
<polygon points="689.6,762.7 720.5,785.0 720.5,779.3 689.6,757.0" fill="#14dcfc" stroke="#0a6478" stroke-width="0.8" stroke-linejoin="round"/>
<polygon points="720.5,785.0 770.9,777.3 770.9,771.6 720.5,779.3" fill="#14dcfc" stroke="#0a6478" stroke-width="0.8" stroke-linejoin="round"/>
<polygon points="689.6,757.0 740.0,749.3 770.9,771.6 720.5,779.3" fill="#14dcfc" stroke="#0a6478" stroke-width="0.8" stroke-linejoin="round"/>
<polygon points="791.3,780.9 822.1,803.2 822.1,800.3 791.3,778.1" fill="#ffcf0a" stroke="#4a3800" stroke-width="0.8" stroke-linejoin="round"/>
<polygon points="822.1,803.2 872.5,795.4 872.5,792.5 822.1,800.3" fill="#ffcf0a" stroke="#4a3800" stroke-width="0.8" stroke-linejoin="round"/>
<polygon points="791.3,778.1 841.7,770.3 872.5,792.5 822.1,800.3" fill="#ffcf0a" stroke="#4a3800" stroke-width="0.8" stroke-linejoin="round"/>
<polygon points="626.4,778.0 657.5,800.4 657.5,794.7 626.4,772.3" fill="#040496" stroke="#00004c" stroke-width="0.8" stroke-linejoin="round"/>
<polygon points="657.5,800.4 707.9,792.6 707.9,787.0 657.5,794.7" fill="#040496" stroke="#00004c" stroke-width="0.8" stroke-linejoin="round"/>
<polygon points="626.4,772.3 676.9,764.6 707.9,787.0 657.5,794.7" fill="#040496" stroke="#00004c" stroke-width="0.8" stroke-linejoin="round"/>
<polygon points="728.2,790.6 759.2,813.0 759.2,806.3 728.2,784.0" fill="#14dcfc" stroke="#0a6478" stroke-width="0.8" stroke-linejoin="round"/>
<polygon points="759.2,813.0 809.5,805.1 809.5,798.5 759.2,806.3" fill="#14dcfc" stroke="#0a6478" stroke-width="0.8" stroke-linejoin="round"/>
<polygon points="728.2,784.0 778.7,776.2 809.5,798.5 759.2,806.3" fill="#14dcfc" stroke="#0a6478" stroke-width="0.8" stroke-linejoin="round"/>
<polygon points="665.2,805.1 696.2,827.5 696.2,822.7 665.2,800.3" fill="#040496" stroke="#00004c" stroke-width="0.8" stroke-linejoin="round"/>
<polygon points="696.2,827.5 746.6,819.6 746.6,814.9 696.2,822.7" fill="#040496" stroke="#00004c" stroke-width="0.8" stroke-linejoin="round"/>
<polygon points="665.2,800.3 715.6,792.6 746.6,814.9 696.2,822.7" fill="#040496" stroke="#00004c" stroke-width="0.8" stroke-linejoin="round"/>
<path d="M538.4 526.6L538.4 733.2L693.5 845.2L945.3 806.1" stroke="#666" stroke-width="1.3" fill="none" stroke-linejoin="round"/>
<path d="M538.4 715.8L532.8 712.6" stroke="#666" stroke-width="1.2" fill="none"/>
<path d="M538.4 621.2L532.8 618.0" stroke="#666" stroke-width="1.2" fill="none"/>
<path d="M538.4 526.6L532.8 523.4" stroke="#666" stroke-width="1.2" fill="none"/>
<path d="M559.3 748.3L551.3 748.8" stroke="#666" stroke-width="1.2" fill="none"/>
<path d="M598.1 776.3L590.1 776.8" stroke="#666" stroke-width="1.2" fill="none"/>
<path d="M636.9 804.3L628.9 804.8" stroke="#666" stroke-width="1.2" fill="none"/>
<path d="M675.7 832.3L667.7 832.8" stroke="#666" stroke-width="1.2" fill="none"/>
<path d="M725.0 840.3L729.4 843.5" stroke="#666" stroke-width="1.2" fill="none"/>
<path d="M787.9 830.5L792.3 833.7" stroke="#666" stroke-width="1.2" fill="none"/>
<path d="M850.9 820.8L855.3 824.0" stroke="#666" stroke-width="1.2" fill="none"/>
<path d="M913.8 811.0L918.2 814.2" stroke="#666" stroke-width="1.2" fill="none"/>
<text transform="translate(673.77 477.40) scale(1.0411 1)" font-family='"Liberation Sans", sans-serif' font-size="19.5" fill="#111">Imaginary part</text>
<text transform="translate(512.35 719.00) scale(1.0700 1)" font-family='"Liberation Sans", sans-serif' font-size="19.5" fill="#111">0</text>
<text transform="translate(495.03 625.20) scale(1.0700 1)" font-family='"Liberation Sans", sans-serif' font-size="19.5" fill="#111">0.5</text>
<text transform="translate(510.36 529.60) scale(1.0700 1)" font-family='"Liberation Sans", sans-serif' font-size="19.5" fill="#111">1</text>
<text transform="translate(506.28 758.90) scale(1.0406 1)" font-family='"Liberation Sans", sans-serif' font-style="italic" font-size="19.5" fill="#111">UU</text>
<text transform="translate(553.81 788.00) scale(1.0846 1)" font-family='"Liberation Sans", sans-serif' font-style="italic" font-size="19.5" fill="#111">UL</text>
<text transform="translate(587.11 814.70) scale(1.0010 1)" font-family='"Liberation Sans", sans-serif' font-style="italic" font-size="19.5" fill="#111">LU</text>
<text transform="translate(635.59 843.60) scale(1.0460 1)" font-family='"Liberation Sans", sans-serif' font-style="italic" font-size="19.5" fill="#111">LL</text>
<text transform="translate(723.47 868.30) scale(1.0444 1)" font-family='"Liberation Sans", sans-serif' font-style="italic" font-size="19.5" fill="#111">UU</text>
<text transform="translate(789.93 858.70) scale(1.0710 1)" font-family='"Liberation Sans", sans-serif' font-style="italic" font-size="19.5" fill="#111">UL</text>
<text transform="translate(850.52 849.20) scale(0.9887 1)" font-family='"Liberation Sans", sans-serif' font-style="italic" font-size="19.5" fill="#111">LU</text>
<text transform="translate(917.20 839.10) scale(1.0307 1)" font-family='"Liberation Sans", sans-serif' font-style="italic" font-size="19.5" fill="#111">LL</text>
<path d="M42.7 1161.6L295.9 1123.5" stroke="#8a8a8a" stroke-width="1.1" fill="none" stroke-dasharray="1.2 3.1"/>
<path d="M42.7 1067.0L295.9 1028.9" stroke="#8a8a8a" stroke-width="1.1" fill="none" stroke-dasharray="1.2 3.1"/>
<path d="M42.7 972.4L295.9 934.3" stroke="#8a8a8a" stroke-width="1.1" fill="none" stroke-dasharray="1.2 3.1"/>
<path d="M74.3 967.6L74.3 1174.2" stroke="#8a8a8a" stroke-width="1.1" fill="none" stroke-dasharray="1.2 3.1"/>
<path d="M137.6 958.1L137.6 1164.7" stroke="#8a8a8a" stroke-width="1.1" fill="none" stroke-dasharray="1.2 3.1"/>
<path d="M200.9 948.6L200.9 1155.2" stroke="#8a8a8a" stroke-width="1.1" fill="none" stroke-dasharray="1.2 3.1"/>
<path d="M264.2 939.1L264.2 1145.7" stroke="#8a8a8a" stroke-width="1.1" fill="none" stroke-dasharray="1.2 3.1"/>
<path d="M295.9 1123.5L449.6 1234.5" stroke="#8a8a8a" stroke-width="1.1" fill="none" stroke-dasharray="1.2 3.1"/>
<path d="M295.9 1028.9L449.6 1139.9" stroke="#8a8a8a" stroke-width="1.1" fill="none" stroke-dasharray="1.2 3.1"/>
<path d="M295.9 934.3L449.6 1045.3" stroke="#8a8a8a" stroke-width="1.1" fill="none" stroke-dasharray="1.2 3.1"/>
<path d="M315.1 948.2L315.1 1154.8" stroke="#8a8a8a" stroke-width="1.1" fill="none" stroke-dasharray="1.2 3.1"/>
<path d="M353.5 975.9L353.5 1182.5" stroke="#8a8a8a" stroke-width="1.1" fill="none" stroke-dasharray="1.2 3.1"/>
<path d="M392.0 1003.7L392.0 1210.3" stroke="#8a8a8a" stroke-width="1.1" fill="none" stroke-dasharray="1.2 3.1"/>
<path d="M430.4 1031.4L430.4 1238.0" stroke="#8a8a8a" stroke-width="1.1" fill="none" stroke-dasharray="1.2 3.1"/>
<path d="M229.3 1286.1L74.3 1174.2" stroke="#8a8a8a" stroke-width="1.1" fill="none" stroke-dasharray="1.2 3.1"/>
<path d="M292.2 1276.3L137.6 1164.7" stroke="#8a8a8a" stroke-width="1.1" fill="none" stroke-dasharray="1.2 3.1"/>
<path d="M355.2 1266.6L200.9 1155.2" stroke="#8a8a8a" stroke-width="1.1" fill="none" stroke-dasharray="1.2 3.1"/>
<path d="M418.1 1256.8L264.2 1145.7" stroke="#8a8a8a" stroke-width="1.1" fill="none" stroke-dasharray="1.2 3.1"/>
<path d="M62.1 1193.0L315.1 1154.8" stroke="#8a8a8a" stroke-width="1.1" fill="none" stroke-dasharray="1.2 3.1"/>
<path d="M100.9 1221.0L353.5 1182.5" stroke="#8a8a8a" stroke-width="1.1" fill="none" stroke-dasharray="1.2 3.1"/>
<path d="M139.6 1249.0L392.0 1210.3" stroke="#8a8a8a" stroke-width="1.1" fill="none" stroke-dasharray="1.2 3.1"/>
<path d="M178.4 1277.0L430.4 1238.0" stroke="#8a8a8a" stroke-width="1.1" fill="none" stroke-dasharray="1.2 3.1"/>
<polygon points="243.1,1133.6 293.7,1125.9 324.5,1148.1 273.9,1155.8" fill="#880000" fill-opacity="0.1" stroke="#000" stroke-width="0.8" stroke-linejoin="round" stroke-opacity="0.55"/>
<polygon points="293.7,1125.9 324.5,1148.1 324.5,1053.5 293.7,1031.3" fill="#880000" fill-opacity="0.1" stroke="#000" stroke-width="0.8" stroke-linejoin="round" stroke-opacity="0.55"/>
<polygon points="243.1,1133.6 293.7,1125.9 293.7,1031.3 243.1,1039.0" fill="#880000" fill-opacity="0.1" stroke="#000" stroke-width="0.8" stroke-linejoin="round" stroke-opacity="0.55"/>
<polygon points="243.1,1133.6 273.9,1155.8 273.9,1080.1 243.1,1057.9" fill="#880000" stroke="#340000" stroke-width="0.8" stroke-linejoin="round"/>
<polygon points="273.9,1155.8 324.5,1148.1 324.5,1072.5 273.9,1080.1" fill="#880000" stroke="#340000" stroke-width="0.8" stroke-linejoin="round"/>
<polygon points="243.1,1057.9 293.7,1050.2 324.5,1072.5 273.9,1080.1" fill="#880000" stroke="#340000" stroke-width="0.8" stroke-linejoin="round"/>
<polygon points="243.1,1133.6 273.9,1155.8 273.9,1061.2 243.1,1039.0" fill="#880000" fill-opacity="0.1" stroke="#000" stroke-width="0.8" stroke-linejoin="round" stroke-opacity="0.7"/>
<polygon points="273.9,1155.8 324.5,1148.1 324.5,1053.5 273.9,1061.2" fill="#880000" fill-opacity="0.1" stroke="#000" stroke-width="0.8" stroke-linejoin="round" stroke-opacity="0.7"/>
<polygon points="243.1,1039.0 293.7,1031.3 324.5,1053.5 273.9,1061.2" fill="#880000" fill-opacity="0.1" stroke="#000" stroke-width="0.8" stroke-linejoin="round" stroke-opacity="0.7"/>
<polygon points="179.8,1143.1 210.7,1165.4 210.7,1163.1 179.8,1140.8" fill="#ffcf0a" stroke="#4a3800" stroke-width="0.8" stroke-linejoin="round"/>
<polygon points="210.7,1165.4 261.2,1157.7 261.2,1155.4 210.7,1163.1" fill="#ffcf0a" stroke="#4a3800" stroke-width="0.8" stroke-linejoin="round"/>
<polygon points="179.8,1140.8 230.4,1133.2 261.2,1155.4 210.7,1163.1" fill="#ffcf0a" stroke="#4a3800" stroke-width="0.8" stroke-linejoin="round"/>
<polygon points="281.6,1165.1 312.4,1187.4 312.4,1183.6 281.6,1161.4" fill="#880000" stroke="#340000" stroke-width="0.8" stroke-linejoin="round"/>
<polygon points="312.4,1187.4 362.9,1179.7 362.9,1175.9 312.4,1183.6" fill="#880000" stroke="#340000" stroke-width="0.8" stroke-linejoin="round"/>
<polygon points="281.6,1161.4 332.1,1153.7 362.9,1175.9 312.4,1183.6" fill="#880000" stroke="#340000" stroke-width="0.8" stroke-linejoin="round"/>
<polygon points="116.5,1156.8 147.4,1179.1 147.4,1175.0 116.5,1152.6" fill="#14dcfc" stroke="#0a6478" stroke-width="0.8" stroke-linejoin="round"/>
<polygon points="147.4,1179.1 198.0,1171.5 198.0,1167.3 147.4,1175.0" fill="#14dcfc" stroke="#0a6478" stroke-width="0.8" stroke-linejoin="round"/>
<polygon points="116.5,1152.6 167.1,1145.0 198.0,1167.3 147.4,1175.0" fill="#14dcfc" stroke="#0a6478" stroke-width="0.8" stroke-linejoin="round"/>
<polygon points="218.4,1171.0 249.3,1193.2 249.3,1191.4 218.4,1169.1" fill="#ffcf0a" stroke="#4a3800" stroke-width="0.8" stroke-linejoin="round"/>
<polygon points="249.3,1193.2 299.8,1185.5 299.8,1183.6 249.3,1191.4" fill="#ffcf0a" stroke="#4a3800" stroke-width="0.8" stroke-linejoin="round"/>
<polygon points="218.4,1169.1 268.9,1161.4 299.8,1183.6 249.3,1191.4" fill="#ffcf0a" stroke="#4a3800" stroke-width="0.8" stroke-linejoin="round"/>
<polygon points="320.1,1189.2 350.9,1211.4 350.9,1205.7 320.1,1183.5" fill="#880000" stroke="#340000" stroke-width="0.8" stroke-linejoin="round"/>
<polygon points="350.9,1211.4 401.3,1203.6 401.3,1198.0 350.9,1205.7" fill="#880000" stroke="#340000" stroke-width="0.8" stroke-linejoin="round"/>
<polygon points="320.1,1183.5 370.6,1175.8 401.3,1198.0 350.9,1205.7" fill="#880000" stroke="#340000" stroke-width="0.8" stroke-linejoin="round"/>
<polygon points="53.2,1162.1 103.8,1154.5 134.8,1176.9 84.2,1184.5" fill="#040496" fill-opacity="0.1" stroke="#000" stroke-width="0.8" stroke-linejoin="round" stroke-opacity="0.55"/>
<polygon points="103.8,1154.5 134.8,1176.9 134.8,1082.3 103.8,1059.9" fill="#040496" fill-opacity="0.1" stroke="#000" stroke-width="0.8" stroke-linejoin="round" stroke-opacity="0.55"/>
<polygon points="53.2,1162.1 103.8,1154.5 103.8,1059.9 53.2,1067.5" fill="#040496" fill-opacity="0.1" stroke="#000" stroke-width="0.8" stroke-linejoin="round" stroke-opacity="0.55"/>
<polygon points="53.2,1162.1 84.2,1184.5 84.2,1093.3 53.2,1071.0" fill="#040496" stroke="#00004c" stroke-width="0.8" stroke-linejoin="round"/>
<polygon points="84.2,1184.5 134.8,1176.9 134.8,1085.7 84.2,1093.3" fill="#040496" stroke="#00004c" stroke-width="0.8" stroke-linejoin="round"/>
<polygon points="53.2,1071.0 103.8,1063.3 134.8,1085.7 84.2,1093.3" fill="#040496" stroke="#00004c" stroke-width="0.8" stroke-linejoin="round"/>
<polygon points="53.2,1162.1 84.2,1184.5 84.2,1089.9 53.2,1067.5" fill="#040496" fill-opacity="0.1" stroke="#000" stroke-width="0.8" stroke-linejoin="round" stroke-opacity="0.7"/>
<polygon points="84.2,1184.5 134.8,1176.9 134.8,1082.3 84.2,1089.9" fill="#040496" fill-opacity="0.1" stroke="#000" stroke-width="0.8" stroke-linejoin="round" stroke-opacity="0.7"/>
<polygon points="53.2,1067.5 103.8,1059.9 134.8,1082.3 84.2,1089.9" fill="#040496" fill-opacity="0.1" stroke="#000" stroke-width="0.8" stroke-linejoin="round" stroke-opacity="0.7"/>
<polygon points="117.7,1153.6 136.7,1149.8 136.7,1152.5 119.2,1155.7 117.7,1155.3" fill="#1eaaf0"/>
<polygon points="155.2,1180.5 186.1,1202.9 186.1,1199.1 155.2,1176.8" fill="#14dcfc" stroke="#0a6478" stroke-width="0.8" stroke-linejoin="round"/>
<polygon points="186.1,1202.9 236.6,1195.2 236.6,1191.4 186.1,1199.1" fill="#14dcfc" stroke="#0a6478" stroke-width="0.8" stroke-linejoin="round"/>
<polygon points="155.2,1176.8 205.7,1169.1 236.6,1191.4 186.1,1199.1" fill="#14dcfc" stroke="#0a6478" stroke-width="0.8" stroke-linejoin="round"/>
<polygon points="257.0,1198.8 287.8,1221.1 287.8,1218.3 257.0,1196.0" fill="#ffcf0a" stroke="#4a3800" stroke-width="0.8" stroke-linejoin="round"/>
<polygon points="287.8,1221.1 338.3,1213.4 338.3,1210.5 287.8,1218.3" fill="#ffcf0a" stroke="#4a3800" stroke-width="0.8" stroke-linejoin="round"/>
<polygon points="257.0,1196.0 307.5,1188.3 338.3,1210.5 287.8,1218.3" fill="#ffcf0a" stroke="#4a3800" stroke-width="0.8" stroke-linejoin="round"/>
<polygon points="358.6,1217.0 409.0,1209.2 439.8,1231.4 389.4,1239.2" fill="#880000" fill-opacity="0.1" stroke="#000" stroke-width="0.8" stroke-linejoin="round" stroke-opacity="0.55"/>
<polygon points="409.0,1209.2 439.8,1231.4 439.8,1136.8 409.0,1114.6" fill="#880000" fill-opacity="0.1" stroke="#000" stroke-width="0.8" stroke-linejoin="round" stroke-opacity="0.55"/>
<polygon points="358.6,1217.0 409.0,1209.2 409.0,1114.6 358.6,1122.4" fill="#880000" fill-opacity="0.1" stroke="#000" stroke-width="0.8" stroke-linejoin="round" stroke-opacity="0.55"/>
<polygon points="358.6,1217.0 389.4,1239.2 389.4,1144.6 358.6,1122.4" fill="#880000" stroke="#340000" stroke-width="0.8" stroke-linejoin="round"/>
<polygon points="389.4,1239.2 439.8,1231.4 439.8,1136.8 389.4,1144.6" fill="#880000" stroke="#340000" stroke-width="0.8" stroke-linejoin="round"/>
<polygon points="358.6,1122.4 409.0,1114.6 439.8,1136.8 389.4,1144.6" fill="#880000" stroke="#340000" stroke-width="0.8" stroke-linejoin="round"/>
<polygon points="358.6,1217.0 389.4,1239.2 389.4,1144.6 358.6,1122.4" fill="#880000" fill-opacity="0.1" stroke="#000" stroke-width="0.8" stroke-linejoin="round" stroke-opacity="0.7"/>
<polygon points="389.4,1239.2 439.8,1231.4 439.8,1136.8 389.4,1144.6" fill="#880000" fill-opacity="0.1" stroke="#000" stroke-width="0.8" stroke-linejoin="round" stroke-opacity="0.7"/>
<polygon points="358.6,1122.4 409.0,1114.6 439.8,1136.8 389.4,1144.6" fill="#880000" fill-opacity="0.1" stroke="#000" stroke-width="0.8" stroke-linejoin="round" stroke-opacity="0.7"/>
<polygon points="92.0,1194.3 123.0,1216.7 123.0,1212.5 92.0,1190.1" fill="#040496" stroke="#00004c" stroke-width="0.8" stroke-linejoin="round"/>
<polygon points="123.0,1216.7 173.5,1209.0 173.5,1204.8 123.0,1212.5" fill="#040496" stroke="#00004c" stroke-width="0.8" stroke-linejoin="round"/>
<polygon points="92.0,1190.1 142.5,1182.5 173.5,1204.8 123.0,1212.5" fill="#040496" stroke="#00004c" stroke-width="0.8" stroke-linejoin="round"/>
<polygon points="193.9,1210.4 224.8,1232.7 224.8,1230.8 193.9,1208.5" fill="#14dcfc" stroke="#0a6478" stroke-width="0.8" stroke-linejoin="round"/>
<polygon points="224.8,1232.7 275.2,1225.0 275.2,1223.1 224.8,1230.8" fill="#14dcfc" stroke="#0a6478" stroke-width="0.8" stroke-linejoin="round"/>
<polygon points="193.9,1208.5 244.3,1200.8 275.2,1223.1 224.8,1230.8" fill="#14dcfc" stroke="#0a6478" stroke-width="0.8" stroke-linejoin="round"/>
<polygon points="295.6,1226.7 326.4,1249.0 326.4,1243.3 295.6,1221.0" fill="#ffcf0a" stroke="#4a3800" stroke-width="0.8" stroke-linejoin="round"/>
<polygon points="326.4,1249.0 376.8,1241.2 376.8,1235.5 326.4,1243.3" fill="#ffcf0a" stroke="#4a3800" stroke-width="0.8" stroke-linejoin="round"/>
<polygon points="295.6,1221.0 346.0,1213.2 376.8,1235.5 326.4,1243.3" fill="#ffcf0a" stroke="#4a3800" stroke-width="0.8" stroke-linejoin="round"/>
<polygon points="130.7,1218.1 161.8,1240.5 161.8,1236.7 130.7,1214.4" fill="#040496" stroke="#00004c" stroke-width="0.8" stroke-linejoin="round"/>
<polygon points="161.8,1240.5 212.2,1232.8 212.2,1229.0 161.8,1236.7" fill="#040496" stroke="#00004c" stroke-width="0.8" stroke-linejoin="round"/>
<polygon points="130.7,1214.4 181.2,1206.6 212.2,1229.0 161.8,1236.7" fill="#040496" stroke="#00004c" stroke-width="0.8" stroke-linejoin="round"/>
<polygon points="232.5,1241.1 263.5,1263.5 263.5,1258.8 232.5,1236.4" fill="#14dcfc" stroke="#0a6478" stroke-width="0.8" stroke-linejoin="round"/>
<polygon points="263.5,1263.5 313.8,1255.7 313.8,1250.9 263.5,1258.8" fill="#14dcfc" stroke="#0a6478" stroke-width="0.8" stroke-linejoin="round"/>
<polygon points="232.5,1236.4 283.0,1228.6 313.8,1250.9 263.5,1258.8" fill="#14dcfc" stroke="#0a6478" stroke-width="0.8" stroke-linejoin="round"/>
<polygon points="169.5,1246.1 219.9,1238.4 250.9,1260.7 200.5,1268.5" fill="#040496" fill-opacity="0.1" stroke="#000" stroke-width="0.8" stroke-linejoin="round" stroke-opacity="0.55"/>
<polygon points="219.9,1238.4 250.9,1260.7 250.9,1166.1 219.9,1143.8" fill="#040496" fill-opacity="0.1" stroke="#000" stroke-width="0.8" stroke-linejoin="round" stroke-opacity="0.55"/>
<polygon points="169.5,1246.1 219.9,1238.4 219.9,1143.8 169.5,1151.5" fill="#040496" fill-opacity="0.1" stroke="#000" stroke-width="0.8" stroke-linejoin="round" stroke-opacity="0.55"/>
<polygon points="169.5,1246.1 200.5,1268.5 200.5,1190.0 169.5,1167.6" fill="#040496" stroke="#00004c" stroke-width="0.8" stroke-linejoin="round"/>
<polygon points="200.5,1268.5 250.9,1260.7 250.9,1182.2 200.5,1190.0" fill="#040496" stroke="#00004c" stroke-width="0.8" stroke-linejoin="round"/>
<polygon points="169.5,1167.6 219.9,1159.8 250.9,1182.2 200.5,1190.0" fill="#040496" stroke="#00004c" stroke-width="0.8" stroke-linejoin="round"/>
<polygon points="169.5,1246.1 200.5,1268.5 200.5,1173.9 169.5,1151.5" fill="#040496" fill-opacity="0.1" stroke="#000" stroke-width="0.8" stroke-linejoin="round" stroke-opacity="0.7"/>
<polygon points="200.5,1268.5 250.9,1260.7 250.9,1166.1 200.5,1173.9" fill="#040496" fill-opacity="0.1" stroke="#000" stroke-width="0.8" stroke-linejoin="round" stroke-opacity="0.7"/>
<polygon points="169.5,1151.5 219.9,1143.8 250.9,1166.1 200.5,1173.9" fill="#040496" fill-opacity="0.1" stroke="#000" stroke-width="0.8" stroke-linejoin="round" stroke-opacity="0.7"/>
<text transform="translate(220.63 1207.80) scale(1.0084 1)" font-family='"Liberation Sans", sans-serif' font-size="19.5" fill="#000024">R</text>
<text transform="translate(220.67 1235.20) scale(1.0584 1)" font-family='"Liberation Sans", sans-serif' font-size="19.5" fill="#000024">e</text>
<path d="M42.7 972.4L42.7 1179.0L197.8 1291.0L449.6 1251.9" stroke="#666" stroke-width="1.3" fill="none" stroke-linejoin="round"/>
<path d="M42.7 1161.6L37.1 1158.4" stroke="#666" stroke-width="1.2" fill="none"/>
<path d="M42.7 1067.0L37.1 1063.8" stroke="#666" stroke-width="1.2" fill="none"/>
<path d="M42.7 972.4L37.1 969.2" stroke="#666" stroke-width="1.2" fill="none"/>
<path d="M63.6 1194.1L55.6 1194.6" stroke="#666" stroke-width="1.2" fill="none"/>
<path d="M102.4 1222.1L94.4 1222.6" stroke="#666" stroke-width="1.2" fill="none"/>
<path d="M141.2 1250.1L133.2 1250.6" stroke="#666" stroke-width="1.2" fill="none"/>
<path d="M180.0 1278.1L172.0 1278.6" stroke="#666" stroke-width="1.2" fill="none"/>
<path d="M229.3 1286.1L233.7 1289.3" stroke="#666" stroke-width="1.2" fill="none"/>
<path d="M292.2 1276.3L296.6 1279.5" stroke="#666" stroke-width="1.2" fill="none"/>
<path d="M355.2 1266.6L359.6 1269.8" stroke="#666" stroke-width="1.2" fill="none"/>
<path d="M418.1 1256.8L422.5 1260.0" stroke="#666" stroke-width="1.2" fill="none"/>
<text transform="translate(201.67 923.60) scale(1.0424 1)" font-family='"Liberation Sans", sans-serif' font-size="19.5" fill="#111">Real part</text>
<text transform="translate(17.25 1165.20) scale(1.0700 1)" font-family='"Liberation Sans", sans-serif' font-size="19.5" fill="#111">0</text>
<text transform="translate(-0.07 1071.40) scale(1.0700 1)" font-family='"Liberation Sans", sans-serif' font-size="19.5" fill="#111">0.5</text>
<text transform="translate(15.26 976.80) scale(1.0700 1)" font-family='"Liberation Sans", sans-serif' font-size="19.5" fill="#111">1</text>
<text transform="translate(10.28 1204.50) scale(1.0406 1)" font-family='"Liberation Sans", sans-serif' font-style="italic" font-size="19.5" fill="#111">UU</text>
<text transform="translate(58.35 1233.70) scale(1.0619 1)" font-family='"Liberation Sans", sans-serif' font-style="italic" font-size="19.5" fill="#111">UL</text>
<text transform="translate(92.13 1261.60) scale(0.9723 1)" font-family='"Liberation Sans", sans-serif' font-style="italic" font-size="19.5" fill="#111">LU</text>
<text transform="translate(139.60 1290.20) scale(1.0256 1)" font-family='"Liberation Sans", sans-serif' font-style="italic" font-size="19.5" fill="#111">LL</text>
<text transform="translate(230.37 1315.50) scale(1.0444 1)" font-family='"Liberation Sans", sans-serif' font-style="italic" font-size="19.5" fill="#111">UU</text>
<text transform="translate(295.03 1304.70) scale(1.0710 1)" font-family='"Liberation Sans", sans-serif' font-style="italic" font-size="19.5" fill="#111">UL</text>
<text transform="translate(355.60 1295.80) scale(1.0215 1)" font-family='"Liberation Sans", sans-serif' font-style="italic" font-size="19.5" fill="#111">LU</text>
<text transform="translate(421.59 1285.10) scale(1.0409 1)" font-family='"Liberation Sans", sans-serif' font-style="italic" font-size="19.5" fill="#111">LL</text>
<path d="M538.7 1163.0L791.9 1124.9" stroke="#8a8a8a" stroke-width="1.1" fill="none" stroke-dasharray="1.2 3.1"/>
<path d="M538.7 1068.4L791.9 1030.3" stroke="#8a8a8a" stroke-width="1.1" fill="none" stroke-dasharray="1.2 3.1"/>
<path d="M538.7 973.8L791.9 935.7" stroke="#8a8a8a" stroke-width="1.1" fill="none" stroke-dasharray="1.2 3.1"/>
<path d="M570.4 969.0L570.4 1176.0" stroke="#8a8a8a" stroke-width="1.1" fill="none" stroke-dasharray="1.2 3.1"/>
<path d="M633.7 959.5L633.7 1166.5" stroke="#8a8a8a" stroke-width="1.1" fill="none" stroke-dasharray="1.2 3.1"/>
<path d="M697.0 950.0L697.0 1157.0" stroke="#8a8a8a" stroke-width="1.1" fill="none" stroke-dasharray="1.2 3.1"/>
<path d="M760.2 940.5L760.2 1147.4" stroke="#8a8a8a" stroke-width="1.1" fill="none" stroke-dasharray="1.2 3.1"/>
<path d="M791.9 1124.9L945.6 1235.9" stroke="#8a8a8a" stroke-width="1.1" fill="none" stroke-dasharray="1.2 3.1"/>
<path d="M791.9 1030.3L945.6 1141.3" stroke="#8a8a8a" stroke-width="1.1" fill="none" stroke-dasharray="1.2 3.1"/>
<path d="M791.9 935.7L945.6 1046.7" stroke="#8a8a8a" stroke-width="1.1" fill="none" stroke-dasharray="1.2 3.1"/>
<path d="M811.1 949.6L811.1 1156.6" stroke="#8a8a8a" stroke-width="1.1" fill="none" stroke-dasharray="1.2 3.1"/>
<path d="M849.5 977.3L849.5 1184.3" stroke="#8a8a8a" stroke-width="1.1" fill="none" stroke-dasharray="1.2 3.1"/>
<path d="M888.0 1005.1L888.0 1212.1" stroke="#8a8a8a" stroke-width="1.1" fill="none" stroke-dasharray="1.2 3.1"/>
<path d="M926.4 1032.8L926.4 1239.8" stroke="#8a8a8a" stroke-width="1.1" fill="none" stroke-dasharray="1.2 3.1"/>
<path d="M725.3 1287.9L570.4 1176.0" stroke="#8a8a8a" stroke-width="1.1" fill="none" stroke-dasharray="1.2 3.1"/>
<path d="M788.2 1278.1L633.7 1166.5" stroke="#8a8a8a" stroke-width="1.1" fill="none" stroke-dasharray="1.2 3.1"/>
<path d="M851.2 1268.3L697.0 1157.0" stroke="#8a8a8a" stroke-width="1.1" fill="none" stroke-dasharray="1.2 3.1"/>
<path d="M914.1 1258.6L760.2 1147.4" stroke="#8a8a8a" stroke-width="1.1" fill="none" stroke-dasharray="1.2 3.1"/>
<path d="M558.1 1194.8L811.1 1156.6" stroke="#8a8a8a" stroke-width="1.1" fill="none" stroke-dasharray="1.2 3.1"/>
<path d="M596.9 1222.8L849.5 1184.3" stroke="#8a8a8a" stroke-width="1.1" fill="none" stroke-dasharray="1.2 3.1"/>
<path d="M635.6 1250.8L888.0 1212.1" stroke="#8a8a8a" stroke-width="1.1" fill="none" stroke-dasharray="1.2 3.1"/>
<path d="M674.4 1278.8L926.4 1239.8" stroke="#8a8a8a" stroke-width="1.1" fill="none" stroke-dasharray="1.2 3.1"/>
<polygon points="739.1,1135.0 769.9,1157.2 769.9,1150.6 739.1,1128.3" fill="#880000" stroke="#340000" stroke-width="0.8" stroke-linejoin="round"/>
<polygon points="769.9,1157.2 820.5,1149.5 820.5,1142.9 769.9,1150.6" fill="#880000" stroke="#340000" stroke-width="0.8" stroke-linejoin="round"/>
<polygon points="739.1,1128.3 789.7,1120.7 820.5,1142.9 769.9,1150.6" fill="#880000" stroke="#340000" stroke-width="0.8" stroke-linejoin="round"/>
<polygon points="675.8,1144.5 706.7,1166.8 706.7,1162.6 675.8,1140.3" fill="#ffcf0a" stroke="#4a3800" stroke-width="0.8" stroke-linejoin="round"/>
<polygon points="706.7,1166.8 757.2,1159.1 757.2,1155.0 706.7,1162.6" fill="#ffcf0a" stroke="#4a3800" stroke-width="0.8" stroke-linejoin="round"/>
<polygon points="675.8,1140.3 726.4,1132.7 757.2,1155.0 706.7,1162.6" fill="#ffcf0a" stroke="#4a3800" stroke-width="0.8" stroke-linejoin="round"/>
<polygon points="777.6,1166.5 808.4,1188.8 808.4,1185.0 777.6,1162.8" fill="#880000" stroke="#340000" stroke-width="0.8" stroke-linejoin="round"/>
<polygon points="808.4,1188.8 858.9,1181.1 858.9,1177.3 808.4,1185.0" fill="#880000" stroke="#340000" stroke-width="0.8" stroke-linejoin="round"/>
<polygon points="777.6,1162.8 828.1,1155.1 858.9,1177.3 808.4,1185.0" fill="#880000" stroke="#340000" stroke-width="0.8" stroke-linejoin="round"/>
<polygon points="612.5,1156.3 643.4,1178.6 643.4,1176.4 612.5,1154.0" fill="#14dcfc" stroke="#0a6478" stroke-width="0.8" stroke-linejoin="round"/>
<polygon points="643.4,1178.6 694.0,1171.0 694.0,1168.7 643.4,1176.4" fill="#14dcfc" stroke="#0a6478" stroke-width="0.8" stroke-linejoin="round"/>
<polygon points="612.5,1154.0 663.1,1146.4 694.0,1168.7 643.4,1176.4" fill="#14dcfc" stroke="#0a6478" stroke-width="0.8" stroke-linejoin="round"/>
<polygon points="714.4,1173.9 745.3,1196.2 745.3,1194.6 714.4,1172.4" fill="#ffcf0a" stroke="#4a3800" stroke-width="0.8" stroke-linejoin="round"/>
<polygon points="745.3,1196.2 795.8,1188.4 795.8,1186.9 745.3,1194.6" fill="#ffcf0a" stroke="#4a3800" stroke-width="0.8" stroke-linejoin="round"/>
<polygon points="714.4,1172.4 764.9,1164.7 795.8,1186.9 745.3,1194.6" fill="#ffcf0a" stroke="#4a3800" stroke-width="0.8" stroke-linejoin="round"/>
<polygon points="816.1,1190.6 846.9,1212.8 846.9,1210.0 816.1,1187.7" fill="#880000" stroke="#340000" stroke-width="0.8" stroke-linejoin="round"/>
<polygon points="846.9,1212.8 897.3,1205.0 897.3,1202.2 846.9,1210.0" fill="#880000" stroke="#340000" stroke-width="0.8" stroke-linejoin="round"/>
<polygon points="816.1,1187.7 866.6,1180.0 897.3,1202.2 846.9,1210.0" fill="#880000" stroke="#340000" stroke-width="0.8" stroke-linejoin="round"/>
<polygon points="549.2,1163.5 580.2,1185.9 580.2,1185.4 549.2,1163.0" fill="#040496" stroke="#00004c" stroke-width="0.8" stroke-linejoin="round"/>
<polygon points="580.2,1185.9 630.8,1178.3 630.8,1177.7 580.2,1185.4" fill="#040496" stroke="#00004c" stroke-width="0.8" stroke-linejoin="round"/>
<polygon points="549.2,1163.0 599.8,1155.4 630.8,1177.7 580.2,1185.4" fill="#040496" stroke="#00004c" stroke-width="0.8" stroke-linejoin="round"/>
<polygon points="651.2,1181.9 682.1,1204.3 682.1,1203.7 651.2,1181.4" fill="#14dcfc" stroke="#0a6478" stroke-width="0.8" stroke-linejoin="round"/>
<polygon points="682.1,1204.3 732.6,1196.6 732.6,1196.0 682.1,1203.7" fill="#14dcfc" stroke="#0a6478" stroke-width="0.8" stroke-linejoin="round"/>
<polygon points="651.2,1181.4 701.7,1173.7 732.6,1196.0 682.1,1203.7" fill="#14dcfc" stroke="#0a6478" stroke-width="0.8" stroke-linejoin="round"/>
<polygon points="753.0,1200.2 783.8,1222.5 783.8,1221.9 753.0,1199.7" fill="#ffcf0a" stroke="#4a3800" stroke-width="0.8" stroke-linejoin="round"/>
<polygon points="783.8,1222.5 834.3,1214.8 834.3,1214.2 783.8,1221.9" fill="#ffcf0a" stroke="#4a3800" stroke-width="0.8" stroke-linejoin="round"/>
<polygon points="753.0,1199.7 803.5,1191.9 834.3,1214.2 783.8,1221.9" fill="#ffcf0a" stroke="#4a3800" stroke-width="0.8" stroke-linejoin="round"/>
<polygon points="854.6,1218.4 885.4,1240.6 885.4,1240.0 854.6,1217.8" fill="#880000" stroke="#340000" stroke-width="0.8" stroke-linejoin="round"/>
<polygon points="885.4,1240.6 935.8,1232.8 935.8,1232.2 885.4,1240.0" fill="#880000" stroke="#340000" stroke-width="0.8" stroke-linejoin="round"/>
<polygon points="854.6,1217.8 905.0,1210.0 935.8,1232.2 885.4,1240.0" fill="#880000" stroke="#340000" stroke-width="0.8" stroke-linejoin="round"/>
<polygon points="588.0,1191.5 619.0,1213.9 619.0,1212.0 588.0,1189.6" fill="#040496" stroke="#00004c" stroke-width="0.8" stroke-linejoin="round"/>
<polygon points="619.0,1213.9 669.5,1206.2 669.5,1204.3 619.0,1212.0" fill="#040496" stroke="#00004c" stroke-width="0.8" stroke-linejoin="round"/>
<polygon points="588.0,1189.6 638.5,1182.0 669.5,1204.3 619.0,1212.0" fill="#040496" stroke="#00004c" stroke-width="0.8" stroke-linejoin="round"/>
<polygon points="689.9,1211.4 720.8,1233.7 720.8,1232.2 689.9,1209.9" fill="#14dcfc" stroke="#0a6478" stroke-width="0.8" stroke-linejoin="round"/>
<polygon points="720.8,1233.7 771.2,1226.0 771.2,1224.5 720.8,1232.2" fill="#14dcfc" stroke="#0a6478" stroke-width="0.8" stroke-linejoin="round"/>
<polygon points="689.9,1209.9 740.3,1202.2 771.2,1224.5 720.8,1232.2" fill="#14dcfc" stroke="#0a6478" stroke-width="0.8" stroke-linejoin="round"/>
<polygon points="791.6,1228.1 822.4,1250.4 822.4,1248.9 791.6,1226.6" fill="#ffcf0a" stroke="#4a3800" stroke-width="0.8" stroke-linejoin="round"/>
<polygon points="822.4,1250.4 872.8,1242.6 872.8,1241.1 822.4,1248.9" fill="#ffcf0a" stroke="#4a3800" stroke-width="0.8" stroke-linejoin="round"/>
<polygon points="791.6,1226.6 842.0,1218.8 872.8,1241.1 822.4,1248.9" fill="#ffcf0a" stroke="#4a3800" stroke-width="0.8" stroke-linejoin="round"/>
<polygon points="626.7,1219.5 657.8,1241.9 657.8,1238.1 626.7,1215.8" fill="#040496" stroke="#00004c" stroke-width="0.8" stroke-linejoin="round"/>
<polygon points="657.8,1241.9 708.2,1234.2 708.2,1230.4 657.8,1238.1" fill="#040496" stroke="#00004c" stroke-width="0.8" stroke-linejoin="round"/>
<polygon points="626.7,1215.8 677.2,1208.0 708.2,1230.4 657.8,1238.1" fill="#040496" stroke="#00004c" stroke-width="0.8" stroke-linejoin="round"/>
<polygon points="728.5,1237.8 759.5,1260.2 759.5,1252.6 728.5,1230.2" fill="#14dcfc" stroke="#0a6478" stroke-width="0.8" stroke-linejoin="round"/>
<polygon points="759.5,1260.2 809.8,1252.3 809.8,1244.8 759.5,1252.6" fill="#14dcfc" stroke="#0a6478" stroke-width="0.8" stroke-linejoin="round"/>
<polygon points="728.5,1230.2 779.0,1222.5 809.8,1244.8 759.5,1252.6" fill="#14dcfc" stroke="#0a6478" stroke-width="0.8" stroke-linejoin="round"/>
<polygon points="665.5,1253.2 696.5,1275.6 696.5,1269.9 665.5,1247.5" fill="#040496" stroke="#00004c" stroke-width="0.8" stroke-linejoin="round"/>
<polygon points="696.5,1275.6 746.9,1267.8 746.9,1262.1 696.5,1269.9" fill="#040496" stroke="#00004c" stroke-width="0.8" stroke-linejoin="round"/>
<polygon points="665.5,1247.5 715.9,1239.8 746.9,1262.1 696.5,1269.9" fill="#040496" stroke="#00004c" stroke-width="0.8" stroke-linejoin="round"/>
<path d="M538.7 973.8L538.7 1180.8L693.8 1292.8L945.6 1253.7" stroke="#666" stroke-width="1.3" fill="none" stroke-linejoin="round"/>
<path d="M538.7 1163.0L533.1 1159.8" stroke="#666" stroke-width="1.2" fill="none"/>
<path d="M538.7 1068.4L533.1 1065.2" stroke="#666" stroke-width="1.2" fill="none"/>
<path d="M538.7 973.8L533.1 970.6" stroke="#666" stroke-width="1.2" fill="none"/>
<path d="M559.6 1195.9L551.6 1196.4" stroke="#666" stroke-width="1.2" fill="none"/>
<path d="M598.4 1223.9L590.4 1224.4" stroke="#666" stroke-width="1.2" fill="none"/>
<path d="M637.2 1251.9L629.2 1252.4" stroke="#666" stroke-width="1.2" fill="none"/>
<path d="M676.0 1279.9L668.0 1280.4" stroke="#666" stroke-width="1.2" fill="none"/>
<path d="M725.3 1287.9L729.7 1291.1" stroke="#666" stroke-width="1.2" fill="none"/>
<path d="M788.2 1278.1L792.6 1281.3" stroke="#666" stroke-width="1.2" fill="none"/>
<path d="M851.2 1268.3L855.6 1271.5" stroke="#666" stroke-width="1.2" fill="none"/>
<path d="M914.1 1258.6L918.5 1261.8" stroke="#666" stroke-width="1.2" fill="none"/>
<text transform="translate(673.77 923.90) scale(1.0411 1)" font-family='"Liberation Sans", sans-serif' font-size="19.5" fill="#111">Imaginary part</text>
<text transform="translate(512.65 1166.40) scale(1.0700 1)" font-family='"Liberation Sans", sans-serif' font-size="19.5" fill="#111">0</text>
<text transform="translate(495.33 1072.60) scale(1.0700 1)" font-family='"Liberation Sans", sans-serif' font-size="19.5" fill="#111">0.5</text>
<text transform="translate(510.66 978.40) scale(1.0700 1)" font-family='"Liberation Sans", sans-serif' font-size="19.5" fill="#111">1</text>
<text transform="translate(507.79 1207.00) scale(1.0331 1)" font-family='"Liberation Sans", sans-serif' font-style="italic" font-size="19.5" fill="#111">UU</text>
<text transform="translate(554.93 1236.90) scale(1.0710 1)" font-family='"Liberation Sans", sans-serif' font-style="italic" font-size="19.5" fill="#111">UL</text>
<text transform="translate(588.60 1265.00) scale(1.0174 1)" font-family='"Liberation Sans", sans-serif' font-style="italic" font-size="19.5" fill="#111">LU</text>
<text transform="translate(635.58 1292.10) scale(1.0663 1)" font-family='"Liberation Sans", sans-serif' font-style="italic" font-size="19.5" fill="#111">LL</text>
<text transform="translate(724.29 1314.80) scale(1.0331 1)" font-family='"Liberation Sans", sans-serif' font-style="italic" font-size="19.5" fill="#111">UU</text>
<text transform="translate(789.93 1305.90) scale(1.0710 1)" font-family='"Liberation Sans", sans-serif' font-style="italic" font-size="19.5" fill="#111">UL</text>
<text transform="translate(850.82 1295.80) scale(0.9887 1)" font-family='"Liberation Sans", sans-serif' font-style="italic" font-size="19.5" fill="#111">LU</text>
<text transform="translate(914.70 1287.10) scale(1.0307 1)" font-family='"Liberation Sans", sans-serif' font-style="italic" font-size="19.5" fill="#111">LL</text>
</svg></body></html>
